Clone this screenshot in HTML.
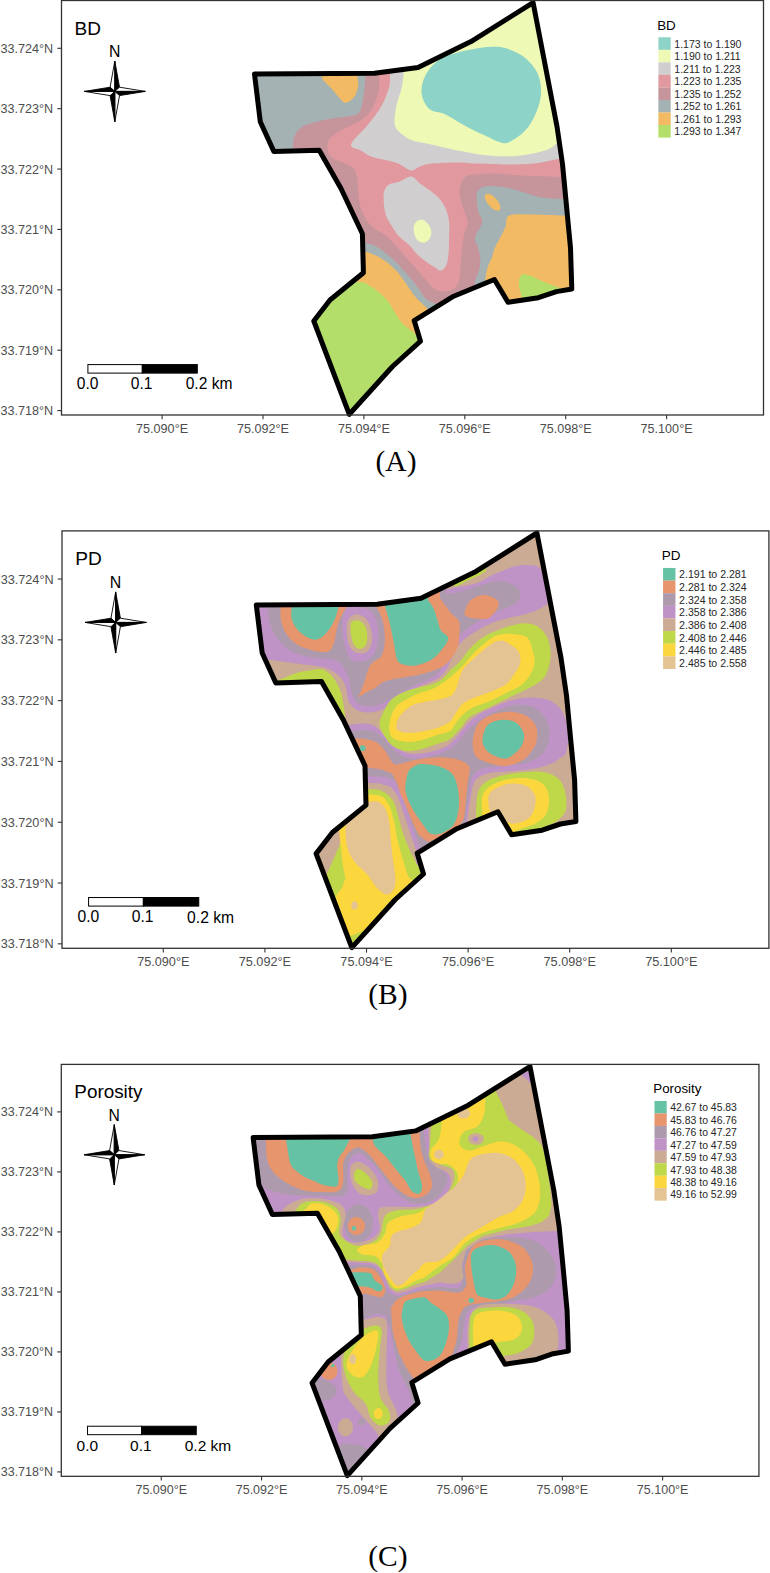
<!DOCTYPE html>
<html><head><meta charset="utf-8"><style>
html,body{margin:0;padding:0;background:#fff;width:770px;height:1573px;overflow:hidden}
svg{display:block}
text{font-family:"Liberation Sans",sans-serif}
.ax{font-size:12.6px;fill:#4D4D4D}
.tk{stroke:#333;stroke-width:1.1}
.ttl{font-size:19px;fill:#000}
.nn{font-size:15.8px;fill:#000}
.sb{font-size:15.6px;fill:#000}
.lt{font-size:13.4px;fill:#000}
.ll{font-size:10.5px;fill:#262626}
.cap{font-family:"Liberation Serif",serif;font-size:29.5px;fill:#000}
</style></head><body>
<svg width="770" height="1573" viewBox="0 0 770 1573">
<rect width="770" height="1573" fill="#fff"/>
<clipPath id="clipA"><path d="M254.5,74.0 L374.5,73.3 L418.0,67.4 L471.0,41.6 L533.1,2.6 L557.0,126.5 L562.5,164.0 L566.5,206.0 L570.5,248.0 L571.8,289.0 L556.4,291.6 L538.4,297.7 L508.0,302.3 L494.4,279.5 L452.5,296.8 L414.2,320.6 L420.5,341.2 L392.5,366.5 L349.3,414.3 L313.8,321.0 L330.0,300.0 L363.4,272.8 L362.4,233.8 L341.0,188.5 L319.2,150.2 L273.8,151.4 L260.3,121.8 Z"/></clipPath>
<g clip-path="url(#clipA)">
<path d="M254.5,74.0 L374.5,73.3 L418.0,67.4 L471.0,41.6 L533.1,2.6 L557.0,126.5 L562.5,164.0 L566.5,206.0 L570.5,248.0 L571.8,289.0 L556.4,291.6 L538.4,297.7 L508.0,302.3 L494.4,279.5 L452.5,296.8 L414.2,320.6 L420.5,341.2 L392.5,366.5 L349.3,414.3 L313.8,321.0 L330.0,300.0 L363.4,272.8 L362.4,233.8 L341.0,188.5 L319.2,150.2 L273.8,151.4 L260.3,121.8 Z" fill="#E1999F"/>
<path d="M390.0,70.0 C390.0,70.9 390.1,72.6 390.0,75.5 C389.9,78.4 390.5,82.3 389.1,87.3 C387.7,92.3 385.4,99.1 381.8,105.5 C378.2,111.9 372.4,119.0 367.3,125.5 C362.2,132.0 351.9,140.3 351.0,144.5 C350.1,148.7 358.5,148.9 361.8,150.9 C365.1,152.9 366.9,154.9 370.9,156.4 C374.8,157.9 380.9,158.8 385.5,160.0 C390.1,161.2 394.0,161.9 398.2,163.6 C402.4,165.3 407.3,169.9 410.9,170.4 C414.5,170.9 416.5,167.6 420.0,166.5 C423.5,165.4 425.7,164.3 432.0,163.6 C438.3,162.9 450.5,162.5 457.9,162.5 C465.3,162.5 467.3,163.3 476.4,163.6 C485.5,163.9 502.1,164.7 512.7,164.5 C523.3,164.3 532.4,163.6 540.0,162.7 C547.6,161.8 552.4,160.0 558.2,159.1 C564.0,158.2 572.2,157.3 575.0,157.0 L600.0,157.0 L600.0,-10.0 L390.0,-10.0 Z" fill="#D1CECF"/>
<path d="M411.2,176.6 C407.9,176.3 403.7,180.2 400.0,181.5 C396.3,182.8 391.6,183.0 389.0,184.5 C386.4,186.0 385.4,188.1 384.5,190.5 C383.6,192.9 383.4,195.1 383.6,199.0 C383.8,202.9 384.2,209.6 385.5,214.0 C386.8,218.4 389.2,221.8 391.4,225.4 C393.6,229.0 395.7,232.5 398.6,235.8 C401.5,239.1 405.9,242.0 409.0,245.1 C412.1,248.2 414.2,251.6 417.3,254.5 C420.4,257.4 424.8,260.6 427.7,262.8 C430.6,265.0 432.8,266.2 435.0,267.5 C437.2,268.8 438.9,271.1 440.7,270.8 C442.5,270.6 444.7,268.6 446.0,266.0 C447.3,263.4 447.9,259.8 448.4,255.0 C448.9,250.2 449.0,243.0 449.1,237.5 C449.2,232.0 449.6,226.7 449.1,222.0 C448.6,217.3 447.6,213.3 446.0,209.5 C444.4,205.7 442.3,202.2 439.7,199.1 C437.1,196.0 433.7,193.4 430.4,190.8 C427.1,188.2 423.2,185.9 420.0,183.5 C416.8,181.1 414.5,176.9 411.2,176.6 Z" fill="#D1CECF"/>
<path d="M403.6,65.0 C403.6,66.3 403.9,69.0 403.6,72.7 C403.3,76.4 403.0,81.8 401.8,87.3 C400.6,92.8 397.6,100.0 396.4,105.5 C395.2,111.0 394.6,116.2 394.5,120.0 C394.4,123.8 394.9,125.8 396.0,128.0 C397.1,130.2 398.5,131.5 401.0,133.5 C403.5,135.5 406.6,138.3 410.9,140.0 C415.2,141.7 419.0,141.8 426.8,143.5 C434.6,145.2 448.4,148.6 457.9,150.5 C467.4,152.4 475.2,154.0 483.9,155.0 C492.6,156.0 502.1,156.5 509.9,156.3 C517.7,156.1 524.1,155.2 530.6,154.0 C537.1,152.8 544.1,151.2 549.0,149.0 C553.9,146.8 555.7,143.3 560.0,141.0 C564.3,138.7 572.5,136.0 575.0,135.0 L600.0,135.0 L600.0,-10.0 L403.6,-10.0 Z" fill="#EFF9B6"/>
<path d="M413.6,227.3 C413.9,225.0 415.0,222.8 416.5,221.5 C418.0,220.2 420.5,219.3 422.5,219.8 C424.5,220.3 427.0,222.4 428.5,224.5 C430.0,226.6 431.3,229.8 431.4,232.3 C431.5,234.8 430.2,237.8 429.0,239.5 C427.8,241.2 425.9,242.4 424.2,242.7 C422.4,242.9 420.1,242.2 418.5,241.0 C416.9,239.8 415.6,237.8 414.8,235.5 C414.0,233.2 413.3,229.6 413.6,227.3 Z" fill="#EFF9B6"/>
<path d="M421.6,93.5 C421.0,87.9 422.5,80.9 425.5,75.3 C428.5,69.7 433.0,63.8 439.7,59.7 C446.4,55.6 456.2,52.8 465.7,50.6 C475.2,48.5 487.8,46.1 496.9,46.8 C506.0,47.4 513.8,50.6 520.3,54.5 C526.8,58.4 532.3,64.5 535.8,70.1 C539.2,75.7 540.6,82.2 541.0,88.3 C541.4,94.4 540.5,100.0 538.4,106.5 C536.2,113.0 532.4,121.7 528.1,127.3 C523.8,132.9 516.8,137.7 512.5,140.3 C508.2,142.9 506.9,143.8 502.1,142.9 C497.3,142.0 490.4,138.1 483.9,135.1 C477.4,132.1 469.6,128.2 463.1,124.7 C456.6,121.2 450.5,116.9 444.9,114.3 C439.3,111.7 433.3,112.6 429.4,109.1 C425.5,105.6 422.2,99.1 421.6,93.5 Z" fill="#8DD3C7"/>
<path d="M379.1,65.0 C379.1,66.8 379.2,70.9 379.1,75.5 C379.0,80.1 379.6,86.8 378.2,92.7 C376.8,98.6 374.2,106.1 370.9,110.9 C367.6,115.8 363.3,118.5 358.2,121.8 C353.1,125.1 344.8,128.0 340.0,130.9 C335.2,133.8 331.6,136.3 329.5,139.0 C327.4,141.7 327.2,144.3 327.5,147.3 C327.8,150.3 328.0,154.2 331.2,157.0 C334.4,159.8 342.9,162.2 346.8,164.3 C350.7,166.4 352.7,166.9 354.5,169.5 C356.3,172.1 356.9,176.2 357.5,180.0 C358.1,183.8 357.9,187.8 358.4,192.0 C358.8,196.2 359.3,201.8 360.2,205.5 C361.1,209.2 362.1,211.5 363.6,214.5 C365.1,217.5 367.0,221.1 369.1,223.6 C371.2,226.1 373.1,227.5 376.0,229.5 C378.9,231.5 383.1,233.4 386.2,235.8 C389.3,238.2 391.9,241.3 394.5,244.1 C397.1,246.9 399.4,249.6 401.8,252.4 C404.2,255.2 406.4,257.8 409.0,260.7 C411.6,263.6 414.5,267.0 417.3,270.1 C420.1,273.2 422.7,276.2 425.6,279.4 C428.6,282.6 431.8,287.3 435.0,289.3 C438.2,291.3 441.7,291.6 445.0,291.4 C448.3,291.2 452.6,289.9 455.0,287.9 C457.4,285.9 458.4,282.9 459.3,279.3 C460.2,275.7 460.1,270.8 460.5,266.4 C460.9,262.0 461.2,257.1 461.6,253.1 C462.0,249.2 462.1,246.2 462.6,242.7 C463.1,239.2 463.8,235.8 464.7,232.3 C465.6,228.9 468.0,225.8 467.8,222.0 C467.6,218.2 464.9,213.8 463.6,209.5 C462.3,205.2 460.5,200.0 460.0,196.0 C459.5,192.0 459.6,188.8 460.5,185.6 C461.4,182.3 463.1,178.3 465.7,176.5 C468.3,174.7 471.6,175.0 476.4,174.5 C481.2,174.0 486.9,173.4 494.5,173.6 C502.1,173.8 512.7,175.0 521.8,175.5 C530.9,176.0 542.1,176.1 549.1,176.4 C556.1,176.7 558.5,177.2 563.6,177.3 C568.8,177.5 577.3,177.3 580.0,177.3 L600.0,177.3 L600.0,430.0 L240.0,430.0 L240.0,65.0 Z" fill="#C6959C"/>
<path d="M365.5,65.0 C365.5,66.8 365.8,70.3 365.5,75.5 C365.2,80.7 364.5,90.5 363.6,96.4 C362.7,102.3 361.8,107.7 360.0,110.9 C358.2,114.1 356.9,114.3 352.7,115.5 C348.4,116.7 340.6,117.2 334.5,118.2 C328.4,119.2 321.8,120.3 316.4,121.8 C310.9,123.3 305.4,124.9 301.8,127.3 C298.2,129.7 296.0,132.8 294.5,136.4 C293.0,140.0 293.0,145.2 292.7,149.1 C292.4,153.0 292.7,158.2 292.7,160.0 L240.0,160.0 L240.0,65.0 Z" fill="#A4B2B3"/>
<path d="M355.0,240.0 C356.7,240.5 361.9,242.1 365.4,243.1 C368.9,244.1 372.3,244.5 375.8,246.2 C379.3,247.9 382.7,250.6 386.2,253.4 C389.7,256.2 393.5,259.7 396.6,262.8 C399.7,265.9 402.1,269.0 404.9,272.1 C407.7,275.2 410.8,278.6 413.2,281.5 C415.6,284.4 417.2,286.8 419.4,289.8 C421.6,292.8 423.8,297.0 426.4,299.3 C429.0,301.6 432.7,301.8 435.0,303.6 C437.3,305.4 439.2,308.9 440.0,310.0 L440.0,430.0 L300.0,430.0 L300.0,240.0 Z" fill="#A4B2B3"/>
<path d="M474.0,300.0 C474.2,297.0 474.1,287.2 475.0,282.1 C475.9,277.0 478.4,273.3 479.3,269.3 C480.2,265.3 480.5,261.9 480.3,258.3 C480.1,254.7 479.1,251.4 478.2,247.9 C477.3,244.4 474.4,241.8 475.1,237.5 C475.8,233.2 481.8,226.3 482.3,222.0 C482.8,217.7 479.1,215.6 478.2,211.6 C477.2,207.6 476.6,201.5 476.6,198.0 C476.6,194.5 476.7,192.4 478.2,190.5 C479.7,188.6 481.3,186.9 485.5,186.4 C489.7,185.9 497.6,186.4 503.6,187.3 C509.7,188.2 515.7,190.1 521.8,191.8 C527.9,193.5 533.0,196.1 540.0,197.3 C547.0,198.5 556.9,198.8 563.6,199.1 C570.3,199.4 577.3,199.1 580.0,199.1 L600.0,199.1 L600.0,330.0 L474.0,330.0 Z" fill="#A4B2B3"/>
<path d="M321.8,65.0 C321.8,66.9 321.4,73.7 321.8,76.4 C322.2,79.1 322.5,79.1 324.0,81.0 C325.5,82.9 328.5,85.4 330.9,88.0 C333.3,90.6 335.8,94.0 338.2,96.4 C340.6,98.9 342.8,102.7 345.5,102.7 C348.2,102.7 352.4,99.3 354.5,96.4 C356.6,93.5 357.7,88.8 358.2,85.5 C358.7,82.2 357.6,79.8 357.5,76.4 C357.4,73.0 357.5,66.9 357.5,65.0 Z" fill="#F2BA63"/>
<path d="M355.0,249.0 C356.7,249.4 361.9,250.3 365.4,251.4 C368.9,252.5 372.3,253.8 375.8,255.5 C379.3,257.2 382.7,259.2 386.2,261.8 C389.7,264.4 393.7,268.0 396.6,271.1 C399.5,274.2 401.6,277.4 403.8,280.5 C406.1,283.6 408.1,287.0 410.1,289.8 C412.1,292.6 413.8,295.0 416.0,297.5 C418.2,300.0 421.6,303.0 423.6,305.0 C425.6,307.0 426.5,307.6 427.9,309.3 C429.3,311.0 431.3,314.1 432.0,315.0 L432.0,430.0 L300.0,430.0 L300.0,249.0 Z" fill="#F2BA63"/>
<path d="M484.0,300.0 C484.2,296.3 484.9,283.5 485.5,277.9 C486.1,272.3 486.9,269.7 487.9,266.4 C488.9,263.1 490.5,261.4 491.7,258.3 C492.9,255.2 493.4,251.3 494.8,247.9 C496.2,244.5 498.2,241.6 500.0,238.0 C501.8,234.4 504.0,230.2 505.5,226.4 C507.0,222.7 504.9,217.5 509.1,215.5 C513.3,213.5 521.8,214.5 530.9,214.5 C540.0,214.5 555.4,215.3 563.6,215.5 C571.8,215.7 577.3,215.5 580.0,215.5 L600.0,215.5 L600.0,330.0 L484.0,330.0 Z" fill="#F2BA63"/>
<path d="M499.5,210.1 C498.9,210.6 497.9,210.8 496.8,210.6 C495.7,210.4 494.2,209.8 492.9,208.9 C491.6,208.0 490.1,206.6 489.0,205.3 C487.9,204.0 486.7,202.4 486.0,201.0 C485.3,199.6 484.9,198.0 484.8,196.9 C484.8,195.8 485.1,194.8 485.7,194.3 C486.3,193.8 487.3,193.6 488.4,193.8 C489.5,194.0 491.0,194.6 492.3,195.5 C493.6,196.4 495.1,197.8 496.2,199.1 C497.3,200.4 498.5,202.0 499.2,203.4 C499.9,204.8 500.3,206.4 500.4,207.5 C500.4,208.6 500.1,209.6 499.5,210.1 Z" fill="#F2BA63"/>
<path d="M345.0,278.0 C346.7,278.6 351.9,280.8 355.0,281.5 C358.1,282.2 360.9,281.8 363.3,282.5 C365.7,283.2 367.0,284.3 369.1,285.5 C371.2,286.7 373.7,288.2 375.8,289.8 C377.9,291.4 379.8,292.9 382.0,295.0 C384.2,297.1 387.0,299.9 389.1,302.7 C391.2,305.5 392.4,308.5 394.5,311.8 C396.6,315.1 398.8,319.4 401.8,322.7 C404.8,326.0 410.3,329.7 412.7,331.8 C415.1,333.9 414.3,333.6 416.4,335.5 C418.4,337.4 423.6,341.8 425.0,343.0 L425.0,430.0 L300.0,430.0 L300.0,278.0 Z" fill="#B3DE69"/>
<path d="M521.6,310.0 C521.6,307.9 522.0,301.7 521.6,297.7 C521.2,293.7 519.4,289.2 519.0,286.0 C518.6,282.8 518.8,280.4 519.5,278.5 C520.2,276.6 521.2,274.8 523.0,274.3 C524.8,273.8 527.4,274.6 530.0,275.5 C532.6,276.4 534.8,278.0 538.4,279.5 C542.0,281.0 547.7,283.3 551.4,284.7 C555.1,286.1 556.6,286.7 560.5,287.9 C564.4,289.1 572.6,291.3 575.0,292.0 L575.0,310.0 Z" fill="#B3DE69"/>
</g>
<path d="M254.5,74.0 L374.5,73.3 L418.0,67.4 L471.0,41.6 L533.1,2.6 L557.0,126.5 L562.5,164.0 L566.5,206.0 L570.5,248.0 L571.8,289.0 L556.4,291.6 L538.4,297.7 L508.0,302.3 L494.4,279.5 L452.5,296.8 L414.2,320.6 L420.5,341.2 L392.5,366.5 L349.3,414.3 L313.8,321.0 L330.0,300.0 L363.4,272.8 L362.4,233.8 L341.0,188.5 L319.2,150.2 L273.8,151.4 L260.3,121.8 Z" fill="none" stroke="#000" stroke-width="5.00" stroke-linejoin="round"/>
<g transform="matrix(1.00000 0 0 1.00000 0.000 0.000)">
<line x1="57.3" y1="48.30" x2="61.5" y2="48.30" class="tk"/>
<text x="53.2" y="52.80" class="ax" text-anchor="end">33.724°N</text>
<line x1="57.3" y1="108.68" x2="61.5" y2="108.68" class="tk"/>
<text x="53.2" y="113.18" class="ax" text-anchor="end">33.723°N</text>
<line x1="57.3" y1="169.06" x2="61.5" y2="169.06" class="tk"/>
<text x="53.2" y="173.56" class="ax" text-anchor="end">33.722°N</text>
<line x1="57.3" y1="229.44" x2="61.5" y2="229.44" class="tk"/>
<text x="53.2" y="233.94" class="ax" text-anchor="end">33.721°N</text>
<line x1="57.3" y1="289.82" x2="61.5" y2="289.82" class="tk"/>
<text x="53.2" y="294.32" class="ax" text-anchor="end">33.720°N</text>
<line x1="57.3" y1="350.20" x2="61.5" y2="350.20" class="tk"/>
<text x="53.2" y="354.70" class="ax" text-anchor="end">33.719°N</text>
<line x1="57.3" y1="410.58" x2="61.5" y2="410.58" class="tk"/>
<text x="53.2" y="415.08" class="ax" text-anchor="end">33.718°N</text>
<line x1="162.10" y1="415" x2="162.10" y2="419.3" class="tk"/>
<text x="162.10" y="433" class="ax" text-anchor="middle">75.090°E</text>
<line x1="263.00" y1="415" x2="263.00" y2="419.3" class="tk"/>
<text x="263.00" y="433" class="ax" text-anchor="middle">75.092°E</text>
<line x1="363.90" y1="415" x2="363.90" y2="419.3" class="tk"/>
<text x="363.90" y="433" class="ax" text-anchor="middle">75.094°E</text>
<line x1="464.80" y1="415" x2="464.80" y2="419.3" class="tk"/>
<text x="464.80" y="433" class="ax" text-anchor="middle">75.096°E</text>
<line x1="565.70" y1="415" x2="565.70" y2="419.3" class="tk"/>
<text x="565.70" y="433" class="ax" text-anchor="middle">75.098°E</text>
<line x1="666.60" y1="415" x2="666.60" y2="419.3" class="tk"/>
<text x="666.60" y="433" class="ax" text-anchor="middle">75.100°E</text>
<text x="74.6" y="34.8" class="ttl">BD</text>
<path d="M114.8,61.1 L110.1,87.2 L114.8,91.4 Z" fill="#fff" stroke="#000" stroke-width="0.9" stroke-linejoin="miter"/>
<path d="M114.8,61.1 L119.5,87.2 L114.8,91.4 Z" fill="#000" stroke="#000" stroke-width="0.9" stroke-linejoin="miter"/>
<path d="M145.3,91.4 L119.5,87.2 L114.8,91.4 Z" fill="#fff" stroke="#000" stroke-width="0.9" stroke-linejoin="miter"/>
<path d="M145.3,91.4 L119.5,95.6 L114.8,91.4 Z" fill="#000" stroke="#000" stroke-width="0.9" stroke-linejoin="miter"/>
<path d="M114.8,121.8 L119.5,95.6 L114.8,91.4 Z" fill="#fff" stroke="#000" stroke-width="0.9" stroke-linejoin="miter"/>
<path d="M114.8,121.8 L110.1,95.6 L114.8,91.4 Z" fill="#000" stroke="#000" stroke-width="0.9" stroke-linejoin="miter"/>
<path d="M84.4,91.4 L110.1,95.6 L114.8,91.4 Z" fill="#fff" stroke="#000" stroke-width="0.9" stroke-linejoin="miter"/>
<path d="M84.4,91.4 L110.1,87.2 L114.8,91.4 Z" fill="#000" stroke="#000" stroke-width="0.9" stroke-linejoin="miter"/>
<text x="114.6" y="57.3" class="nn" text-anchor="middle">N</text>
<rect x="87.9" y="364.6" width="54.4" height="8.5" fill="#fff" stroke="#000" stroke-width="1"/>
<rect x="142.3" y="364.6" width="55" height="8.5" fill="#000" stroke="#000" stroke-width="1"/>
<text x="87.7" y="389.2" class="sb" text-anchor="middle">0.0</text>
<text x="141.6" y="389.2" class="sb" text-anchor="middle">0.1</text>
<text x="185.7" y="389.4" class="sb">0.2 km</text>
<text x="657.2" y="29.7" class="lt">BD</text>
<rect x="658.4" y="37.30" width="12.3" height="12.6" fill="#8DD3C7"/>
<text x="674.3" y="47.70" class="ll">1.173 to 1.190</text>
<rect x="658.4" y="49.83" width="12.3" height="12.6" fill="#EFF9B6"/>
<text x="674.3" y="60.23" class="ll">1.190 to 1.211</text>
<rect x="658.4" y="62.36" width="12.3" height="12.6" fill="#D1CECF"/>
<text x="674.3" y="72.76" class="ll">1.211 to 1.223</text>
<rect x="658.4" y="74.89" width="12.3" height="12.6" fill="#E1999F"/>
<text x="674.3" y="85.29" class="ll">1.223 to 1.235</text>
<rect x="658.4" y="87.42" width="12.3" height="12.6" fill="#C6959C"/>
<text x="674.3" y="97.82" class="ll">1.235 to 1.252</text>
<rect x="658.4" y="99.95" width="12.3" height="12.6" fill="#A4B2B3"/>
<text x="674.3" y="110.35" class="ll">1.252 to 1.261</text>
<rect x="658.4" y="112.48" width="12.3" height="12.6" fill="#F2BA63"/>
<text x="674.3" y="122.88" class="ll">1.261 to 1.293</text>
<rect x="658.4" y="125.01" width="12.3" height="12.6" fill="#B3DE69"/>
<text x="674.3" y="135.41" class="ll">1.293 to 1.347</text>
<rect x="61.5" y="0.5" width="702" height="414.5" fill="none" stroke="#333" stroke-width="1.3"/>
</g>
<clipPath id="clipB"><path d="M256.3,604.9 L377.2,604.2 L421.0,598.3 L474.4,572.3 L536.9,533.0 L561.0,657.8 L566.5,695.5 L570.5,737.8 L574.6,780.1 L575.9,821.4 L560.4,824.0 L542.2,830.2 L511.6,834.8 L497.9,811.8 L455.7,829.3 L417.2,853.2 L423.5,874.0 L395.3,899.5 L351.8,947.6 L316.1,853.6 L332.4,832.5 L366.0,805.1 L365.0,765.8 L343.5,720.2 L321.5,681.6 L275.8,682.9 L262.2,653.0 Z"/></clipPath>
<g clip-path="url(#clipB)">
<path d="M256.3,604.9 L377.2,604.2 L421.0,598.3 L474.4,572.3 L536.9,533.0 L561.0,657.8 L566.5,695.5 L570.5,737.8 L574.6,780.1 L575.9,821.4 L560.4,824.0 L542.2,830.2 L511.6,834.8 L497.9,811.8 L455.7,829.3 L417.2,853.2 L423.5,874.0 L395.3,899.5 L351.8,947.6 L316.1,853.6 L332.4,832.5 L366.0,805.1 L365.0,765.8 L343.5,720.2 L321.5,681.6 L275.8,682.9 L262.2,653.0 Z" fill="#CBAB93"/>
<path d="M250.0,659.5 C252.7,659.5 259.5,659.0 266.0,659.5 C272.5,660.0 281.9,661.6 289.0,662.5 C296.1,663.4 302.3,664.2 308.4,665.1 C314.4,666.0 320.8,666.4 325.3,667.7 C329.9,669.0 332.9,671.0 335.7,672.9 C338.5,674.8 340.5,676.8 342.2,679.4 C343.9,682.0 345.1,684.9 346.1,688.5 C347.2,692.1 346.9,697.5 348.5,701.0 C350.1,704.5 352.9,707.6 355.8,709.5 C358.8,711.4 362.7,712.2 366.2,712.5 C369.7,712.8 373.5,712.2 376.6,711.5 C379.7,710.8 382.1,709.5 384.9,708.1 C387.7,706.7 390.3,704.8 393.2,702.9 C396.1,701.0 398.9,699.0 402.5,696.6 C406.1,694.2 410.8,690.8 415.0,688.5 C419.2,686.2 423.8,684.9 428.0,683.0 C432.2,681.1 436.8,679.4 440.0,677.0 C443.2,674.6 445.0,671.8 447.0,668.5 C449.0,665.2 450.1,661.3 452.0,657.5 C453.9,653.7 455.9,648.9 458.5,645.5 C461.1,642.1 463.7,639.8 467.3,637.0 C470.9,634.2 475.5,631.5 480.0,629.0 C484.5,626.5 489.1,624.0 494.5,622.0 C499.9,620.0 506.6,618.6 512.7,617.0 C518.8,615.4 525.4,614.5 530.9,612.5 C536.4,610.5 542.7,607.9 546.0,605.0 C549.3,602.1 550.2,598.2 550.5,595.0 C550.8,591.8 549.0,589.2 548.0,586.0 C547.0,582.8 546.1,579.1 544.5,575.9 C542.9,572.7 541.1,568.6 538.2,566.8 C535.3,565.0 531.5,565.0 527.3,565.0 C523.0,565.0 518.2,565.3 512.7,566.8 C507.2,568.3 500.6,571.4 494.5,574.1 C488.4,576.8 482.4,581.1 476.4,583.2 C470.3,585.3 463.1,585.8 458.2,586.8 C453.3,587.8 448.9,589.0 447.0,589.5 L447.0,560.0 L250.0,560.0 Z" fill="#C093C6"/>
<path d="M268.2,600.0 C268.2,601.1 268.0,603.2 268.2,606.7 C268.4,610.2 268.2,616.0 269.5,621.0 C270.8,626.0 272.8,631.9 276.0,636.6 C279.2,641.4 284.2,646.3 289.0,649.5 C293.8,652.7 298.9,654.5 304.5,656.0 C310.1,657.5 317.7,658.0 322.7,658.6 C327.7,659.2 331.4,659.0 334.4,659.9 C337.4,660.8 339.1,662.1 340.9,663.8 C342.7,665.5 343.6,667.3 345.0,670.0 C346.4,672.7 347.9,676.3 349.0,680.0 C350.1,683.7 350.3,688.3 351.5,692.0 C352.7,695.7 353.8,699.7 356.0,702.0 C358.2,704.3 361.7,705.4 365.0,706.0 C368.3,706.6 372.7,706.2 376.0,705.5 C379.3,704.8 381.8,703.5 385.0,702.0 C388.2,700.5 391.7,698.4 395.0,696.5 C398.3,694.6 401.2,692.6 405.0,690.5 C408.8,688.4 413.8,686.0 418.0,684.0 C422.2,682.0 426.7,680.3 430.0,678.5 C433.3,676.7 435.8,675.4 438.0,673.0 C440.2,670.6 441.5,667.2 443.0,664.0 C444.5,660.8 445.5,657.3 447.0,654.0 C448.5,650.7 450.0,647.0 452.0,644.0 C454.0,641.0 455.9,639.0 459.0,636.0 C462.1,633.0 466.8,628.9 470.9,626.0 C475.0,623.1 479.1,621.0 483.6,618.5 C488.2,616.0 493.3,613.2 498.2,611.0 C503.1,608.8 509.1,607.2 512.7,605.0 C516.3,602.8 519.1,600.4 520.0,597.7 C520.9,595.0 520.0,591.0 518.2,588.6 C516.4,586.2 513.1,584.4 509.1,583.2 C505.2,582.0 499.9,580.8 494.5,581.4 C489.1,582.0 482.4,585.0 476.4,586.8 C470.3,588.6 463.3,591.1 458.2,592.3 C453.1,593.5 448.0,593.7 446.0,594.0 L446.0,560.0 L268.2,560.0 Z" fill="#AD9BAD"/>
<path d="M345.0,724.7 C345.9,724.7 347.9,724.9 350.6,724.7 C353.3,724.5 357.5,723.6 361.0,723.6 C364.5,723.6 368.5,723.6 371.4,724.5 C374.3,725.4 376.1,726.8 378.5,729.0 C380.9,731.2 383.4,734.8 386.0,737.5 C388.6,740.2 391.0,743.1 394.0,745.5 C397.0,747.9 400.5,750.6 404.0,752.0 C407.5,753.4 410.7,754.0 415.0,754.0 C419.3,754.0 425.0,753.2 430.0,752.0 C435.0,750.8 440.8,749.2 445.0,747.0 C449.2,744.8 452.0,742.0 455.0,739.0 C458.0,736.0 460.2,732.2 463.0,729.0 C465.8,725.8 468.8,722.2 472.0,719.5 C475.2,716.8 478.3,714.6 482.0,712.5 C485.7,710.4 489.3,709.0 494.0,707.0 C498.7,705.0 504.0,702.1 510.0,700.5 C516.0,698.9 523.2,697.4 530.0,697.5 C536.8,697.6 545.3,698.2 550.9,701.0 C556.5,703.8 560.8,708.4 563.6,714.0 C566.5,719.6 567.6,728.0 568.0,734.5 C568.4,741.0 567.3,748.8 566.0,752.7 C564.7,756.6 562.2,756.3 560.0,758.0 C557.8,759.7 557.6,761.0 553.0,762.9 C548.4,764.8 539.5,767.7 532.2,769.1 C524.9,770.5 516.7,770.5 509.4,771.2 C502.1,771.9 494.2,771.8 488.6,773.2 C483.1,774.6 478.9,776.7 476.1,779.5 C473.3,782.3 473.0,786.1 472.0,789.9 C471.0,793.7 470.6,797.8 469.9,802.3 C469.2,806.8 468.3,813.6 467.8,816.9 C467.3,820.2 467.1,821.1 467.0,822.0 L467.0,870.0 L416.0,870.0 L416.0,850.0 L409.5,831.0 L403.5,813.0 L398.0,797.0 L391.0,787.0 L380.0,783.5 L369.0,783.0 L360.0,782.5 L330.0,782.5 L330.0,724.7 Z" fill="#C093C6"/>
<path d="M345.0,731.0 C346.2,731.0 349.2,731.2 352.0,731.0 C354.8,730.8 358.7,730.0 362.0,730.0 C365.3,730.0 369.0,730.2 372.0,731.0 C375.0,731.8 377.5,733.2 380.0,735.0 C382.5,736.8 384.7,739.5 387.0,742.0 C389.3,744.5 391.2,747.6 394.0,750.0 C396.8,752.4 400.5,755.1 404.0,756.5 C407.5,757.9 410.7,758.5 415.0,758.5 C419.3,758.5 425.0,757.7 430.0,756.5 C435.0,755.3 440.7,753.6 445.0,751.5 C449.3,749.4 452.8,746.9 456.0,744.0 C459.2,741.1 461.0,737.2 464.0,734.0 C467.0,730.8 470.2,727.6 474.0,724.5 C477.8,721.4 481.8,718.3 487.0,715.5 C492.2,712.7 499.5,709.3 505.0,707.5 C510.5,705.7 514.8,704.2 520.0,704.5 C525.2,704.8 531.9,706.1 536.4,709.0 C540.9,711.9 545.2,716.9 547.3,721.8 C549.4,726.7 549.7,733.1 549.1,738.2 C548.5,743.4 546.9,748.8 543.6,752.7 C540.3,756.6 534.9,759.7 529.1,761.8 C523.4,763.9 516.1,764.6 509.1,765.5 C502.1,766.4 492.8,766.2 487.3,767.3 C481.8,768.4 478.7,769.7 476.0,772.0 C473.3,774.3 472.2,777.2 471.0,781.0 C469.8,784.8 469.8,790.2 469.0,795.0 C468.2,799.8 467.1,805.5 466.5,810.0 C465.9,814.5 465.7,820.0 465.5,822.0 L465.5,870.0 L419.5,870.0 L419.5,847.0 L413.0,828.0 L407.0,810.0 L401.5,794.0 L395.0,781.0 L385.0,777.0 L369.0,776.0 L360.0,775.5 L330.0,775.5 L330.0,731.0 Z" fill="#AD9BAD"/>
<path d="M280.5,600.0 C280.5,601.1 280.4,603.2 280.5,606.7 C280.6,610.2 280.2,616.5 281.2,621.0 C282.2,625.5 283.8,630.1 286.4,634.0 C289.0,637.9 292.9,641.8 296.8,644.4 C300.7,647.0 305.4,648.2 309.7,649.5 C314.0,650.8 319.2,652.0 322.7,652.1 C326.2,652.2 328.5,651.9 330.5,650.0 C332.5,648.1 333.5,644.3 334.5,641.0 C335.5,637.7 335.7,633.5 336.5,630.0 C337.3,626.5 338.3,623.0 339.5,620.0 C340.7,617.0 342.4,614.2 343.5,612.0 C344.6,609.8 345.6,608.7 346.1,606.7 C346.6,604.7 346.4,601.1 346.5,600.0 L346.5,590.0 L280.5,590.0 Z" fill="#E7956C"/>
<path d="M291.6,600.0 C291.6,601.1 291.6,603.6 291.6,606.7 C291.6,609.8 290.7,614.7 291.6,618.4 C292.5,622.1 294.4,625.8 296.8,628.8 C299.2,631.8 302.8,634.8 305.8,636.6 C308.8,638.4 312.1,639.8 314.9,639.8 C317.7,639.8 320.1,638.6 322.7,636.6 C325.3,634.6 328.3,630.8 330.5,627.5 C332.7,624.2 334.4,620.6 335.7,617.1 C337.0,613.6 337.9,609.6 338.3,606.7 C338.7,603.9 338.3,601.1 338.3,600.0 L338.3,590.0 L291.6,590.0 Z" fill="#66C2A5"/>
<path d="M376.4,600.0 C376.4,601.1 375.5,603.8 376.4,606.8 C377.3,609.8 380.4,613.6 381.8,617.7 C383.2,621.8 384.1,626.9 384.5,631.4 C384.9,635.9 385.1,640.8 384.5,645.0 C383.9,649.2 382.9,653.9 380.9,656.8 C378.9,659.7 374.8,660.2 372.7,662.3 C370.6,664.4 369.6,666.3 368.2,669.5 C366.8,672.7 365.8,677.6 364.5,681.4 C363.2,685.1 361.5,689.4 360.5,692.0 C359.5,694.6 357.6,697.0 358.6,697.0 C359.6,697.0 363.6,693.8 366.4,692.3 C369.2,690.8 372.8,689.4 375.5,687.7 C378.2,686.0 380.0,683.7 382.7,682.3 C385.4,680.9 387.9,680.4 391.8,679.5 C395.8,678.6 400.9,678.0 406.4,677.0 C411.8,676.0 418.4,675.2 424.5,673.5 C430.6,671.8 438.1,669.2 442.7,666.5 C447.2,663.8 449.2,660.9 451.8,657.5 C454.4,654.1 456.7,650.2 458.0,646.0 C459.3,641.8 459.3,636.1 459.5,632.0 C459.7,627.9 460.4,624.4 459.1,621.4 C457.8,618.4 454.2,616.8 451.8,614.1 C449.4,611.4 447.0,607.7 445.0,605.0 C443.0,602.3 440.8,599.2 440.0,598.0 L440.0,580.0 L376.4,580.0 Z" fill="#E7956C"/>
<path d="M385.0,600.0 C385.0,601.0 384.2,602.0 385.0,606.0 C385.8,610.0 388.6,618.0 390.0,624.0 C391.4,630.0 392.4,636.0 393.6,642.0 C394.8,648.0 395.6,656.2 397.3,660.0 C399.0,663.8 401.0,663.6 404.0,664.5 C407.0,665.4 410.9,666.3 415.5,665.5 C420.1,664.7 427.3,662.3 431.8,659.5 C436.3,656.7 440.0,652.2 442.7,648.6 C445.4,645.0 448.5,640.7 448.2,637.7 C447.9,634.7 442.7,633.5 440.9,630.5 C439.1,627.5 438.5,623.1 437.3,619.5 C436.1,615.9 435.2,611.9 433.6,608.6 C432.1,605.4 428.9,601.4 428.0,600.0 L428.0,590.0 L385.0,590.0 Z" fill="#66C2A5"/>
<path d="M465.0,611.0 C465.8,608.3 467.8,602.7 470.9,600.0 C474.0,597.3 479.4,595.1 483.6,595.0 C487.9,594.9 494.0,597.5 496.4,599.5 C498.8,601.5 499.4,603.8 498.2,606.8 C497.0,609.8 492.7,615.7 489.1,617.7 C485.5,619.7 480.2,618.9 476.4,618.6 C472.5,618.3 467.9,617.3 466.0,616.0 C464.1,614.7 464.2,613.7 465.0,611.0 Z" fill="#E7956C"/>
<path d="M350.0,738.0 C351.0,738.0 353.1,738.0 355.8,738.2 C358.5,738.4 362.7,738.5 366.2,739.2 C369.7,739.9 373.5,740.4 376.6,742.3 C379.7,744.2 382.6,747.8 384.9,750.6 C387.1,753.4 388.4,756.7 390.1,759.0 C391.8,761.3 392.7,763.9 395.3,764.5 C397.9,765.1 402.3,763.2 405.6,762.5 C408.9,761.8 410.3,760.8 415.0,760.0 C419.7,759.2 427.8,757.8 433.6,757.5 C439.4,757.2 445.3,757.4 450.0,758.0 C454.7,758.6 458.8,759.4 462.0,761.0 C465.2,762.6 468.5,764.1 469.5,767.5 C470.5,770.9 468.4,775.8 467.8,781.6 C467.2,787.4 466.4,796.1 465.7,802.3 C465.0,808.5 465.0,814.8 463.6,819.0 C462.2,823.2 458.4,825.9 457.4,827.3 L457.0,860.0 L440.0,860.0 L440.0,839.0 L427.3,841.8 L418.2,834.5 L410.9,818.2 L403.6,800.0 L400.5,794.3 L397.3,783.9 L392.1,773.5 L381.8,769.4 L366.2,767.3 L350.0,767.0 Z" fill="#E7956C"/>
<path d="M365.6,748.2 C365.6,748.9 365.2,749.8 364.7,750.3 C364.2,750.8 363.3,751.2 362.6,751.2 C361.9,751.2 361.0,750.8 360.5,750.3 C360.0,749.8 359.6,748.9 359.6,748.2 C359.6,747.5 360.0,746.6 360.5,746.1 C361.0,745.6 361.9,745.2 362.6,745.2 C363.3,745.2 364.2,745.6 364.7,746.1 C365.2,746.6 365.6,747.5 365.6,748.2 Z" fill="#66C2A5"/>
<path d="M407.7,773.5 C408.9,769.6 410.3,768.9 412.7,767.3 C415.1,765.7 417.4,764.0 422.1,764.0 C426.8,764.0 435.6,765.1 440.8,767.0 C446.0,768.9 450.3,771.1 453.2,775.3 C456.1,779.4 457.5,786.0 458.4,791.9 C459.3,797.8 459.3,805.0 458.4,810.6 C457.5,816.2 456.1,821.4 453.2,825.2 C450.3,829.0 444.6,832.1 440.8,833.5 C437.0,834.9 433.3,834.8 430.4,833.5 C427.5,832.2 426.6,829.6 423.6,825.5 C420.7,821.4 415.7,814.9 412.7,809.1 C409.7,803.3 406.3,796.8 405.5,790.9 C404.7,785.0 406.5,777.4 407.7,773.5 Z" fill="#66C2A5"/>
<path d="M472.7,741.8 C473.0,736.3 474.9,728.1 478.2,723.6 C481.5,719.1 487.2,716.5 492.7,714.5 C498.1,712.5 505.1,711.5 510.9,711.8 C516.7,712.1 523.0,713.8 527.3,716.4 C531.5,719.0 534.9,723.1 536.4,727.3 C537.9,731.5 537.1,737.9 536.4,741.8 C535.7,745.6 534.6,747.2 532.2,750.4 C529.8,753.6 526.3,758.2 521.8,760.8 C517.3,763.4 510.7,765.6 505.2,766.0 C499.7,766.4 493.5,764.5 488.6,762.9 C483.8,761.3 478.8,760.1 476.1,756.6 C473.5,753.1 472.4,747.3 472.7,741.8 Z" fill="#E7956C"/>
<path d="M482.7,738.2 C483.3,734.9 484.4,728.5 487.3,725.5 C490.2,722.5 495.5,720.6 500.0,720.0 C504.5,719.4 510.6,719.7 514.5,721.8 C518.4,723.9 522.4,728.8 523.6,732.7 C524.8,736.7 523.9,741.5 521.8,745.5 C519.7,749.5 514.2,754.3 510.9,756.4 C507.6,758.5 505.4,758.8 501.8,758.2 C498.2,757.6 492.1,754.8 489.1,752.7 C486.1,750.6 484.7,747.9 483.6,745.5 C482.5,743.1 482.1,741.5 482.7,738.2 Z" fill="#66C2A5"/>
<path d="M342.3,626.8 C342.1,623.0 342.0,620.7 342.7,617.7 C343.4,614.7 344.6,610.4 346.4,608.6 C348.2,606.8 350.6,606.9 353.6,606.8 C356.6,606.6 361.3,606.6 364.5,607.7 C367.7,608.8 370.6,610.5 372.7,613.2 C374.8,615.9 376.4,620.3 377.3,624.1 C378.2,627.9 378.4,632.0 378.2,635.9 C378.0,639.8 377.5,644.2 376.4,647.7 C375.3,651.2 374.1,654.5 371.8,656.8 C369.5,659.1 365.9,660.8 362.7,661.4 C359.5,662.0 355.3,661.9 352.7,660.5 C350.1,659.1 348.8,656.5 347.3,653.2 C345.8,649.9 344.4,644.9 343.6,640.5 C342.8,636.1 342.5,630.6 342.3,626.8 Z" fill="#C093C6"/>
<path d="M346.8,631.4 C346.7,628.1 346.5,624.9 347.3,622.3 C348.1,619.7 349.7,617.1 351.8,615.9 C353.9,614.7 357.4,614.2 360.0,615.0 C362.6,615.8 365.4,617.8 367.3,620.5 C369.2,623.2 370.6,627.8 371.4,631.4 C372.1,635.0 372.5,639.0 371.8,642.3 C371.1,645.6 369.3,649.6 367.3,651.4 C365.3,653.2 362.4,653.4 360.0,653.2 C357.6,653.1 354.7,652.3 352.7,650.5 C350.7,648.7 349.2,645.5 348.2,642.3 C347.2,639.1 346.9,634.7 346.8,631.4 Z" fill="#CBAB93"/>
<path d="M350.9,633.2 C350.6,630.0 350.1,625.3 350.9,623.2 C351.7,621.1 353.8,620.8 355.5,620.5 C357.2,620.2 359.2,620.4 360.9,621.4 C362.6,622.4 364.4,624.4 365.5,626.8 C366.6,629.2 367.2,633.0 367.3,635.9 C367.4,638.8 367.3,642.0 366.4,644.1 C365.5,646.2 363.5,648.0 361.8,648.6 C360.1,649.2 357.9,648.8 356.4,647.7 C354.9,646.7 353.6,644.7 352.7,642.3 C351.8,639.9 351.2,636.4 350.9,633.2 Z" fill="#BFD849"/>
<path d="M379.5,723.0 C379.7,718.9 382.7,713.7 384.7,709.7 C386.7,705.7 388.6,702.1 391.7,699.2 C394.8,696.3 398.9,694.2 403.4,692.2 C407.9,690.2 413.7,688.9 418.6,687.5 C423.5,686.1 428.5,685.5 432.6,684.0 C436.7,682.5 440.2,680.5 443.1,678.2 C446.0,676.0 448.2,672.4 450.1,670.5 C452.0,668.6 452.4,668.6 454.3,666.8 C456.2,665.0 459.2,662.3 461.6,659.5 C464.0,656.7 466.2,653.1 468.8,650.1 C471.4,647.1 474.0,644.4 477.1,641.8 C480.2,639.2 483.7,636.6 487.5,634.5 C491.3,632.4 495.9,630.9 500.0,629.4 C504.1,627.9 507.8,626.5 512.0,625.5 C516.2,624.5 521.1,623.0 525.5,623.2 C529.9,623.4 534.6,624.4 538.2,626.8 C541.8,629.2 545.2,633.7 547.3,637.7 C549.3,641.7 550.1,646.6 550.5,651.0 C550.9,655.4 550.6,659.5 549.5,664.0 C548.4,668.5 547.0,674.2 543.6,678.2 C540.2,682.2 534.7,684.9 529.1,688.0 C523.5,691.1 516.5,693.8 510.0,697.0 C503.5,700.2 496.7,703.7 490.0,707.0 C483.3,710.3 474.7,713.7 470.0,717.0 C465.3,720.3 465.1,723.3 461.8,727.0 C458.5,730.7 453.9,736.2 450.0,739.0 C446.1,741.8 442.3,742.1 438.4,743.5 C434.5,744.9 430.7,746.3 426.8,747.5 C422.9,748.7 419.0,750.1 415.1,750.6 C411.2,751.1 407.3,751.5 403.4,750.6 C399.5,749.7 395.0,747.7 391.7,745.0 C388.4,742.3 385.5,738.0 383.5,734.3 C381.5,730.6 379.3,727.1 379.5,723.0 Z" fill="#BFD849"/>
<path d="M389.4,724.9 C389.8,722.1 390.3,717.7 391.7,714.4 C393.1,711.1 394.6,707.8 397.5,705.1 C400.4,702.4 405.4,700.1 409.2,698.0 C412.9,695.9 416.8,693.9 420.0,692.7 C423.2,691.5 425.2,691.8 428.3,690.6 C431.4,689.4 435.2,687.6 438.7,685.5 C442.2,683.4 446.2,680.5 449.1,678.2 C452.1,676.0 454.0,674.2 456.4,672.0 C458.8,669.8 461.0,667.5 463.6,664.7 C466.2,661.9 469.1,658.2 471.9,655.3 C474.7,652.3 477.2,649.8 480.3,647.0 C483.4,644.2 487.3,640.8 490.6,638.7 C493.9,636.6 496.3,635.3 500.0,634.5 C503.7,633.7 508.2,633.6 512.7,634.1 C517.2,634.6 524.0,634.9 527.3,637.7 C530.6,640.5 531.5,646.6 532.7,650.9 C533.9,655.2 535.1,659.4 534.5,663.6 C533.9,667.9 531.5,672.7 529.1,676.4 C526.7,680.1 523.2,683.6 520.0,686.0 C516.8,688.4 515.0,688.5 510.0,691.0 C505.0,693.5 495.3,698.6 490.0,701.0 C484.7,703.4 481.3,704.2 478.0,705.5 C474.7,706.8 472.7,707.2 470.0,709.0 C467.3,710.8 464.1,713.8 461.8,716.0 C459.5,718.2 458.0,720.0 456.0,722.5 C454.0,725.0 452.9,729.0 450.0,731.0 C447.1,733.0 442.3,733.2 438.4,734.5 C434.5,735.8 430.7,737.3 426.8,738.5 C422.9,739.7 419.0,741.0 415.1,741.5 C411.2,742.0 407.1,742.1 403.4,741.5 C399.7,740.9 395.2,739.8 392.9,738.0 C390.6,736.2 390.0,733.2 389.4,731.0 C388.8,728.8 389.0,727.7 389.4,724.9 Z" fill="#FBD63D"/>
<path d="M396.4,728.4 C396.4,726.8 396.3,723.0 397.5,720.3 C398.7,717.6 400.9,714.6 403.4,712.1 C405.9,709.6 408.8,706.9 412.7,705.1 C416.6,703.4 422.5,702.5 426.8,701.6 C431.1,700.7 435.0,700.2 438.4,699.5 C441.8,698.8 444.6,698.3 447.0,697.5 C449.4,696.7 451.0,695.9 452.5,694.5 C454.0,693.1 455.0,691.2 456.0,689.0 C457.0,686.8 457.6,683.8 458.5,681.0 C459.4,678.2 460.2,674.7 461.6,672.0 C463.0,669.3 464.7,667.0 466.8,664.7 C468.9,662.4 471.1,661.0 474.0,658.4 C476.9,655.8 481.3,651.7 484.4,649.1 C487.5,646.5 490.1,644.3 492.7,642.9 C495.3,641.5 497.9,641.0 500.0,640.8 C502.1,640.6 502.5,640.1 505.5,641.8 C508.5,643.5 515.8,647.3 518.2,650.9 C520.6,654.5 520.9,659.4 520.0,663.6 C519.1,667.9 515.2,672.8 512.7,676.4 C510.2,680.0 508.8,682.4 505.0,685.0 C501.2,687.6 494.3,690.2 490.0,692.0 C485.7,693.8 482.3,694.8 479.0,696.0 C475.7,697.2 472.8,698.1 470.0,699.5 C467.2,700.9 464.3,702.3 462.0,704.5 C459.7,706.7 458.0,709.7 456.0,712.5 C454.0,715.3 452.9,719.0 450.0,721.5 C447.1,724.0 442.3,726.0 438.4,727.5 C434.5,729.0 430.7,729.7 426.8,730.5 C422.9,731.3 419.0,732.2 415.1,732.5 C411.2,732.8 406.3,732.9 403.4,732.5 C400.5,732.1 398.7,730.7 397.5,730.0 C396.3,729.3 396.4,730.0 396.4,728.4 Z" fill="#E5C494"/>
<path d="M476.1,830.0 C476.1,827.1 475.8,819.0 476.1,812.7 C476.5,806.4 476.5,797.2 478.2,792.0 C479.9,786.8 482.4,784.4 486.5,781.6 C490.6,778.8 496.9,776.9 503.1,775.3 C509.3,773.7 517.0,772.7 523.9,772.2 C530.8,771.7 538.8,771.0 544.7,772.2 C550.6,773.4 555.7,775.9 559.2,779.5 C562.7,783.1 564.5,788.8 565.5,794.0 C566.5,799.2 566.9,806.1 565.5,810.6 C564.1,815.1 560.6,818.2 557.1,821.0 C553.6,823.8 547.6,825.0 544.7,827.3 C541.9,829.6 540.8,833.7 540.0,835.0 L540.0,860.0 L476.1,860.0 Z" fill="#BFD849"/>
<path d="M482.3,830.0 C482.3,827.1 482.3,818.4 482.3,812.7 C482.3,807.1 480.9,800.6 482.3,796.1 C483.7,791.6 486.4,788.5 490.6,785.7 C494.8,782.9 501.1,780.7 507.3,779.5 C513.5,778.3 522.2,777.7 528.1,778.4 C534.0,779.1 539.2,780.6 542.6,783.6 C546.0,786.6 548.1,791.2 548.8,796.1 C549.5,801.0 548.9,808.2 546.8,812.7 C544.7,817.2 540.9,820.3 536.4,823.1 C531.9,825.9 523.9,827.8 519.7,829.4 C515.5,831.0 512.8,832.4 511.4,833.0 L511.4,860.0 L482.3,860.0 Z" fill="#FBD63D"/>
<path d="M491.0,815.0 C489.1,811.4 487.6,800.6 488.6,796.1 C489.6,791.6 493.1,789.9 496.9,787.8 C500.7,785.7 506.5,784.0 511.4,783.6 C516.2,783.2 522.2,784.0 526.0,785.7 C529.8,787.4 532.8,790.9 534.3,794.0 C535.8,797.1 536.0,800.6 535.3,804.4 C534.6,808.2 533.0,813.8 530.1,816.9 C527.2,820.0 521.2,822.1 517.7,823.1 C514.2,824.1 512.4,824.0 509.4,823.1 C506.4,822.2 503.1,819.4 500.0,818.0 C496.9,816.6 492.9,818.6 491.0,815.0 Z" fill="#E5C494"/>
<path d="M270.0,684.0 C272.1,683.1 278.4,680.4 282.7,678.6 C286.9,676.8 291.1,674.5 295.5,673.2 C299.9,671.9 304.8,671.3 309.0,670.6 C313.2,669.9 317.2,668.6 320.5,669.0 C323.8,669.4 326.4,671.1 329.0,673.2 C331.6,675.3 334.0,678.4 336.0,681.7 C338.0,685.1 339.9,688.9 341.2,693.3 C342.5,697.7 343.4,704.2 344.0,708.0 C344.6,711.8 344.8,714.7 345.0,716.0 L345.0,730.0 L320.0,720.0 L260.0,690.0 Z" fill="#BFD849"/>
<path d="M448.0,578.0 C449.2,579.3 452.7,585.1 455.0,586.0 C457.3,586.9 459.5,584.6 462.0,583.5 C464.5,582.4 467.3,580.8 470.0,579.5 C472.7,578.2 475.3,577.4 478.0,576.0 C480.7,574.6 484.7,571.8 486.0,571.0 L486.0,555.0 L448.0,555.0 Z" fill="#BFD849"/>
<path d="M365.0,788.0 C365.7,788.2 366.3,788.6 369.1,789.1 C371.9,789.6 377.9,789.1 381.8,790.9 C385.7,792.7 390.0,795.8 392.7,800.0 C395.4,804.2 396.4,810.6 398.2,816.4 C400.0,822.1 401.5,828.5 403.6,834.5 C405.7,840.5 408.5,847.5 410.9,852.7 C413.3,858.0 416.8,863.8 418.0,866.0 L440.0,880.0 L400.0,960.0 L300.0,960.0 L300.0,880.0 L326.0,876.0 Z" fill="#BFD849"/>
<path d="M300.0,876.0 L326.0,876.0 L327.5,865.0 L327.3,850.0 L325.0,840.0 L300.0,840.0 Z" fill="#CBAB93"/>
<path d="M365.0,794.0 C365.7,794.1 366.2,794.1 369.0,794.5 C371.8,794.9 378.4,794.6 381.8,796.4 C385.2,798.2 387.1,801.4 389.1,805.5 C391.1,809.6 392.5,814.9 394.0,821.0 C395.5,827.1 396.3,835.0 398.0,842.0 C399.7,849.0 402.3,857.3 404.0,863.0 C405.7,868.7 406.7,873.2 408.0,876.0 C409.3,878.8 411.3,879.3 412.0,880.0 L420.0,890.0 L380.0,930.0 L365.0,930.0 L350.9,936.0 L343.0,930.0 L338.0,915.0 L334.0,900.0 L336.4,895.0 L342.0,888.0 L345.5,878.0 L343.0,867.0 L341.8,856.4 L340.0,840.0 L339.0,829.0 L345.0,815.0 Z" fill="#FBD63D"/>
<path d="M346.0,818.0 C345.9,819.9 345.3,824.2 345.5,829.1 C345.7,834.0 345.8,841.8 347.3,847.3 C348.8,852.8 351.2,857.3 354.5,861.8 C357.8,866.3 363.7,870.2 367.3,874.5 C370.9,878.8 373.4,884.0 376.4,887.3 C379.4,890.6 382.8,893.9 385.5,894.5 C388.2,895.1 391.0,893.3 392.7,890.9 C394.4,888.5 395.5,885.5 395.5,880.0 C395.5,874.5 393.5,864.9 392.7,858.2 C391.9,851.5 391.5,846.1 390.9,840.0 C390.3,833.9 390.0,826.9 389.1,821.8 C388.2,816.6 387.3,812.4 385.5,809.1 C383.7,805.8 380.9,803.0 378.2,801.8 C375.4,800.6 370.5,801.8 369.0,801.8 L360.0,805.0 Z" fill="#E5C494"/>
<path d="M357.8,905.5 C357.8,906.5 357.4,907.8 356.8,908.5 C356.3,909.2 355.3,909.7 354.5,909.7 C353.7,909.7 352.7,909.2 352.2,908.5 C351.6,907.8 351.2,906.5 351.2,905.5 C351.2,904.5 351.6,903.2 352.2,902.5 C352.7,901.8 353.7,901.3 354.5,901.3 C355.3,901.3 356.3,901.8 356.8,902.5 C357.4,903.2 357.8,904.5 357.8,905.5 Z" fill="#E5C494"/>
</g>
<path d="M256.3,604.9 L377.2,604.2 L421.0,598.3 L474.4,572.3 L536.9,533.0 L561.0,657.8 L566.5,695.5 L570.5,737.8 L574.6,780.1 L575.9,821.4 L560.4,824.0 L542.2,830.2 L511.6,834.8 L497.9,811.8 L455.7,829.3 L417.2,853.2 L423.5,874.0 L395.3,899.5 L351.8,947.6 L316.1,853.6 L332.4,832.5 L366.0,805.1 L365.0,765.8 L343.5,720.2 L321.5,681.6 L275.8,682.9 L262.2,653.0 Z" fill="none" stroke="#000" stroke-width="5.03" stroke-linejoin="round"/>
<g transform="matrix(1.00698 0 0 1.00698 0.071 530.397)">
<line x1="57.3" y1="48.30" x2="61.5" y2="48.30" class="tk"/>
<text x="53.2" y="52.80" class="ax" text-anchor="end">33.724°N</text>
<line x1="57.3" y1="108.68" x2="61.5" y2="108.68" class="tk"/>
<text x="53.2" y="113.18" class="ax" text-anchor="end">33.723°N</text>
<line x1="57.3" y1="169.06" x2="61.5" y2="169.06" class="tk"/>
<text x="53.2" y="173.56" class="ax" text-anchor="end">33.722°N</text>
<line x1="57.3" y1="229.44" x2="61.5" y2="229.44" class="tk"/>
<text x="53.2" y="233.94" class="ax" text-anchor="end">33.721°N</text>
<line x1="57.3" y1="289.82" x2="61.5" y2="289.82" class="tk"/>
<text x="53.2" y="294.32" class="ax" text-anchor="end">33.720°N</text>
<line x1="57.3" y1="350.20" x2="61.5" y2="350.20" class="tk"/>
<text x="53.2" y="354.70" class="ax" text-anchor="end">33.719°N</text>
<line x1="57.3" y1="410.58" x2="61.5" y2="410.58" class="tk"/>
<text x="53.2" y="415.08" class="ax" text-anchor="end">33.718°N</text>
<line x1="162.10" y1="415" x2="162.10" y2="419.3" class="tk"/>
<text x="162.10" y="433" class="ax" text-anchor="middle">75.090°E</text>
<line x1="263.00" y1="415" x2="263.00" y2="419.3" class="tk"/>
<text x="263.00" y="433" class="ax" text-anchor="middle">75.092°E</text>
<line x1="363.90" y1="415" x2="363.90" y2="419.3" class="tk"/>
<text x="363.90" y="433" class="ax" text-anchor="middle">75.094°E</text>
<line x1="464.80" y1="415" x2="464.80" y2="419.3" class="tk"/>
<text x="464.80" y="433" class="ax" text-anchor="middle">75.096°E</text>
<line x1="565.70" y1="415" x2="565.70" y2="419.3" class="tk"/>
<text x="565.70" y="433" class="ax" text-anchor="middle">75.098°E</text>
<line x1="666.60" y1="415" x2="666.60" y2="419.3" class="tk"/>
<text x="666.60" y="433" class="ax" text-anchor="middle">75.100°E</text>
<text x="74.6" y="34.8" class="ttl">PD</text>
<path d="M114.8,61.1 L110.1,87.2 L114.8,91.4 Z" fill="#fff" stroke="#000" stroke-width="0.9" stroke-linejoin="miter"/>
<path d="M114.8,61.1 L119.5,87.2 L114.8,91.4 Z" fill="#000" stroke="#000" stroke-width="0.9" stroke-linejoin="miter"/>
<path d="M145.3,91.4 L119.5,87.2 L114.8,91.4 Z" fill="#fff" stroke="#000" stroke-width="0.9" stroke-linejoin="miter"/>
<path d="M145.3,91.4 L119.5,95.6 L114.8,91.4 Z" fill="#000" stroke="#000" stroke-width="0.9" stroke-linejoin="miter"/>
<path d="M114.8,121.8 L119.5,95.6 L114.8,91.4 Z" fill="#fff" stroke="#000" stroke-width="0.9" stroke-linejoin="miter"/>
<path d="M114.8,121.8 L110.1,95.6 L114.8,91.4 Z" fill="#000" stroke="#000" stroke-width="0.9" stroke-linejoin="miter"/>
<path d="M84.4,91.4 L110.1,95.6 L114.8,91.4 Z" fill="#fff" stroke="#000" stroke-width="0.9" stroke-linejoin="miter"/>
<path d="M84.4,91.4 L110.1,87.2 L114.8,91.4 Z" fill="#000" stroke="#000" stroke-width="0.9" stroke-linejoin="miter"/>
<text x="114.6" y="57.3" class="nn" text-anchor="middle">N</text>
<rect x="87.9" y="364.6" width="54.4" height="8.5" fill="#fff" stroke="#000" stroke-width="1"/>
<rect x="142.3" y="364.6" width="55" height="8.5" fill="#000" stroke="#000" stroke-width="1"/>
<text x="87.7" y="389.2" class="sb" text-anchor="middle">0.0</text>
<text x="141.6" y="389.2" class="sb" text-anchor="middle">0.1</text>
<text x="185.7" y="389.4" class="sb">0.2 km</text>
<text x="657.2" y="29.7" class="lt">PD</text>
<rect x="658.4" y="37.30" width="12.3" height="12.6" fill="#66C2A5"/>
<text x="674.3" y="47.70" class="ll">2.191 to 2.281</text>
<rect x="658.4" y="49.83" width="12.3" height="12.6" fill="#E7956C"/>
<text x="674.3" y="60.23" class="ll">2.281 to 2.324</text>
<rect x="658.4" y="62.36" width="12.3" height="12.6" fill="#AD9BAD"/>
<text x="674.3" y="72.76" class="ll">2.324 to 2.358</text>
<rect x="658.4" y="74.89" width="12.3" height="12.6" fill="#C093C6"/>
<text x="674.3" y="85.29" class="ll">2.358 to 2.386</text>
<rect x="658.4" y="87.42" width="12.3" height="12.6" fill="#CBAB93"/>
<text x="674.3" y="97.82" class="ll">2.386 to 2.408</text>
<rect x="658.4" y="99.95" width="12.3" height="12.6" fill="#BFD849"/>
<text x="674.3" y="110.35" class="ll">2.408 to 2.446</text>
<rect x="658.4" y="112.48" width="12.3" height="12.6" fill="#FBD63D"/>
<text x="674.3" y="122.88" class="ll">2.446 to 2.485</text>
<rect x="658.4" y="125.01" width="12.3" height="12.6" fill="#E5C494"/>
<text x="674.3" y="135.41" class="ll">2.485 to 2.558</text>
<rect x="61.5" y="0.5" width="702" height="414.5" fill="none" stroke="#333" stroke-width="1.3"/>
</g>
<clipPath id="clipC"><path d="M253.1,1137.4 L372.4,1136.7 L415.6,1130.9 L468.3,1105.2 L530.0,1066.5 L553.7,1189.6 L559.2,1226.9 L563.2,1268.6 L567.1,1310.4 L568.4,1351.1 L553.1,1353.7 L535.2,1359.8 L505.0,1364.3 L491.5,1341.7 L449.9,1358.9 L411.8,1382.5 L418.1,1403.0 L390.2,1428.1 L347.3,1475.6 L312.0,1382.9 L328.1,1362.0 L361.3,1335.0 L360.3,1296.2 L339.1,1251.2 L317.4,1213.2 L272.3,1214.4 L258.9,1184.9 Z"/></clipPath>
<g clip-path="url(#clipC)">
<path d="M253.1,1137.4 L372.4,1136.7 L415.6,1130.9 L468.3,1105.2 L530.0,1066.5 L553.7,1189.6 L559.2,1226.9 L563.2,1268.6 L567.1,1310.4 L568.4,1351.1 L553.1,1353.7 L535.2,1359.8 L505.0,1364.3 L491.5,1341.7 L449.9,1358.9 L411.8,1382.5 L418.1,1403.0 L390.2,1428.1 L347.3,1475.6 L312.0,1382.9 L328.1,1362.0 L361.3,1335.0 L360.3,1296.2 L339.1,1251.2 L317.4,1213.2 L272.3,1214.4 L258.9,1184.9 Z" fill="#C093C6"/>
<path d="M255.0,1139.0 C255.2,1142.5 255.5,1153.5 256.0,1160.0 C256.5,1166.5 256.5,1173.3 258.0,1178.0 C259.5,1182.7 261.1,1185.4 265.0,1188.0 C268.9,1190.6 275.6,1192.2 281.4,1193.5 C287.2,1194.8 293.6,1195.1 300.0,1195.5 C306.4,1195.9 314.0,1195.8 320.0,1196.0 C326.0,1196.2 332.0,1196.7 336.0,1196.5 C340.0,1196.3 342.0,1196.4 344.0,1195.0 C346.0,1193.6 347.4,1191.3 348.0,1188.0 C348.6,1184.7 347.3,1179.3 347.5,1175.0 C347.7,1170.7 347.9,1165.3 349.0,1162.0 C350.1,1158.7 352.2,1156.5 354.0,1155.0 C355.8,1153.5 358.0,1152.7 360.0,1153.0 C362.0,1153.3 363.5,1154.8 366.0,1157.0 C368.5,1159.2 371.7,1162.0 375.0,1166.0 C378.3,1170.0 382.2,1176.3 386.0,1181.0 C389.8,1185.7 393.7,1190.3 398.0,1194.0 C402.3,1197.7 407.3,1201.5 412.0,1203.0 C416.7,1204.5 422.0,1203.8 426.0,1203.0 C430.0,1202.2 433.0,1200.8 436.0,1198.5 C439.0,1196.2 442.1,1192.9 444.0,1189.5 C445.9,1186.1 447.7,1181.1 447.5,1178.0 C447.3,1174.9 445.4,1173.2 443.0,1171.0 C440.6,1168.8 435.6,1168.2 433.0,1165.0 C430.4,1161.8 428.8,1156.2 427.5,1152.0 C426.2,1147.8 425.6,1143.5 425.0,1140.0 C424.4,1136.5 424.2,1132.5 424.0,1131.0 L424.0,1100.0 L255.0,1100.0 Z" fill="#AD9BAD"/>
<path d="M373.0,1223.0 C373.0,1226.2 372.3,1229.8 371.1,1232.5 C369.8,1235.2 367.8,1237.9 365.8,1239.5 C363.7,1241.0 360.9,1242.0 358.5,1242.0 C356.1,1242.0 353.3,1241.0 351.2,1239.5 C349.2,1237.9 347.2,1235.2 345.9,1232.5 C344.7,1229.8 344.0,1226.2 344.0,1223.0 C344.0,1219.8 344.7,1216.2 345.9,1213.5 C347.2,1210.8 349.2,1208.1 351.2,1206.5 C353.3,1205.0 356.1,1204.0 358.5,1204.0 C360.9,1204.0 363.7,1205.0 365.8,1206.5 C367.8,1208.1 369.8,1210.8 371.1,1213.5 C372.3,1216.2 373.0,1219.8 373.0,1223.0 Z" fill="#AD9BAD"/>
<path d="M350.2,1265.4 C352.5,1265.3 360.3,1264.6 364.2,1264.8 C368.1,1265.0 370.9,1265.1 373.6,1266.6 C376.3,1268.1 378.9,1270.7 380.6,1273.6 C382.4,1276.5 382.7,1281.0 384.1,1284.1 C385.5,1287.2 386.7,1290.3 388.8,1292.3 C390.9,1294.2 393.8,1295.6 396.9,1295.8 C400.0,1296.0 402.8,1294.6 407.5,1293.4 C412.2,1292.2 419.6,1289.9 425.0,1288.8 C430.4,1287.7 435.0,1287.1 440.0,1287.0 C445.0,1286.9 451.4,1288.3 455.0,1288.0 C458.6,1287.7 460.4,1287.3 461.5,1285.0 C462.6,1282.7 461.5,1278.7 461.9,1274.1 C462.2,1269.5 462.8,1261.4 463.6,1257.2 C464.5,1253.0 463.9,1251.8 467.0,1248.8 C470.1,1245.8 475.4,1241.5 482.2,1239.5 C488.9,1237.5 499.1,1236.9 507.5,1237.0 C516.0,1237.1 525.9,1237.5 532.9,1240.3 C539.9,1243.1 545.8,1248.7 549.7,1253.8 C553.6,1258.9 556.2,1265.3 556.5,1270.7 C556.8,1276.1 554.5,1281.7 551.4,1285.9 C548.3,1290.1 543.8,1293.5 537.9,1296.0 C532.0,1298.5 522.3,1299.8 516.0,1301.1 C509.7,1302.4 504.7,1303.2 500.0,1304.0 C495.3,1304.8 492.2,1305.4 488.0,1306.0 C483.8,1306.6 478.5,1306.3 475.0,1307.5 C471.5,1308.7 468.8,1310.1 467.0,1313.0 C465.2,1315.9 464.8,1320.5 464.0,1325.0 C463.2,1329.5 463.3,1335.2 462.0,1340.0 C460.7,1344.8 458.0,1350.5 456.0,1354.0 C454.0,1357.5 451.0,1359.8 450.0,1361.0 L460.0,1420.0 L415.0,1420.0 L411.0,1398.0 L409.0,1390.0 L403.6,1381.0 L398.2,1368.2 L394.5,1351.8 L390.9,1331.8 L385.5,1315.5 L376.4,1313.6 L363.6,1319.1 L355.0,1322.0 L340.0,1322.0 L340.0,1265.0 Z" fill="#AD9BAD"/>
<path d="M330.0,1447.0 C330.8,1447.0 331.9,1447.9 334.5,1447.3 C337.1,1446.7 341.2,1443.9 345.5,1443.6 C349.8,1443.3 356.4,1444.6 360.0,1445.5 C363.6,1446.4 365.3,1448.0 367.3,1449.1 C369.3,1450.2 371.2,1451.5 372.0,1452.0 L372.0,1490.0 L330.0,1490.0 Z" fill="#AD9BAD"/>
<path d="M310.0,1377.0 C311.0,1377.3 313.3,1378.5 316.0,1379.0 C318.7,1379.5 323.0,1379.0 326.0,1380.0 C329.0,1381.0 332.3,1383.3 334.0,1385.0 C335.7,1386.7 336.6,1387.9 336.4,1390.0 C336.2,1392.1 334.9,1395.8 333.0,1397.5 C331.1,1399.2 327.5,1400.0 325.0,1400.5 C322.5,1401.0 320.5,1400.8 318.0,1400.5 C315.5,1400.2 311.3,1399.2 310.0,1399.0 Z" fill="#AD9BAD"/>
<path d="M365.3,1421.8 C365.3,1422.6 364.9,1423.7 364.3,1424.3 C363.7,1424.9 362.6,1425.3 361.8,1425.3 C361.0,1425.3 359.9,1424.9 359.3,1424.3 C358.7,1423.7 358.3,1422.6 358.3,1421.8 C358.3,1421.0 358.7,1419.9 359.3,1419.3 C359.9,1418.7 361.0,1418.3 361.8,1418.3 C362.6,1418.3 363.7,1418.7 364.3,1419.3 C364.9,1419.9 365.3,1421.0 365.3,1421.8 Z" fill="#AD9BAD"/>
<path d="M265.8,1140.5 C266.2,1144.4 265.8,1157.4 268.4,1163.9 C271.0,1170.4 275.8,1175.2 281.4,1179.5 C287.0,1183.8 295.2,1187.8 302.1,1189.9 C309.0,1192.0 316.8,1191.8 322.9,1192.0 C329.0,1192.2 335.1,1192.7 338.5,1191.0 C341.9,1189.3 342.4,1186.5 343.2,1182.0 C344.0,1177.5 342.5,1168.7 343.2,1164.0 C343.9,1159.3 345.7,1156.6 347.5,1154.0 C349.3,1151.4 352.0,1149.5 354.0,1148.5 C356.0,1147.5 357.5,1147.4 359.3,1147.8 C361.1,1148.2 363.1,1149.5 365.0,1151.0 C366.9,1152.5 368.1,1153.5 371.0,1157.0 C373.9,1160.5 378.6,1166.7 382.7,1171.7 C386.8,1176.8 390.9,1183.0 395.6,1187.3 C400.4,1191.6 406.4,1196.0 411.2,1197.5 C416.0,1199.0 420.7,1197.9 424.2,1196.0 C427.7,1194.1 431.4,1190.0 432.2,1186.0 C433.0,1182.0 430.4,1176.3 429.0,1172.0 C427.6,1167.7 425.4,1164.0 424.0,1160.0 C422.6,1156.0 421.6,1152.6 420.8,1148.0 C420.1,1143.4 419.7,1135.1 419.5,1132.5 L419.5,1100.0 L265.8,1100.0 Z" fill="#E7956C"/>
<path d="M365.0,1226.0 C365.0,1227.8 364.3,1229.9 363.4,1231.3 C362.4,1232.7 360.7,1234.0 359.1,1234.6 C357.5,1235.1 355.3,1235.1 353.7,1234.6 C352.1,1234.0 350.4,1232.7 349.4,1231.3 C348.5,1229.9 347.8,1227.8 347.8,1226.0 C347.8,1224.2 348.5,1222.1 349.4,1220.7 C350.4,1219.3 352.1,1218.0 353.7,1217.4 C355.3,1216.9 357.5,1216.9 359.1,1217.4 C360.7,1218.0 362.4,1219.3 363.4,1220.7 C364.3,1222.1 365.0,1224.2 365.0,1226.0 Z" fill="#E7956C"/>
<path d="M351.4,1270.1 C352.6,1269.7 355.3,1268.0 358.4,1267.7 C361.5,1267.4 367.0,1267.5 370.1,1268.3 C373.2,1269.1 375.0,1270.2 377.1,1272.4 C379.2,1274.7 381.5,1278.7 382.9,1281.8 C384.3,1284.9 385.5,1288.6 385.3,1291.1 C385.1,1293.6 383.8,1296.2 381.8,1297.0 C379.9,1297.8 376.5,1296.4 373.6,1295.8 C370.7,1295.2 366.4,1293.4 364.2,1293.4 C362.0,1293.4 362.1,1294.7 360.7,1295.8 C359.3,1296.9 356.8,1299.3 356.0,1300.0 L340.0,1300.0 L340.0,1270.0 Z" fill="#E7956C"/>
<path d="M390.9,1308.2 C391.8,1306.9 393.6,1302.6 396.0,1300.5 C398.4,1298.4 401.6,1297.2 405.1,1295.8 C408.6,1294.4 413.5,1293.1 416.8,1292.3 C420.1,1291.5 421.1,1291.4 425.0,1291.1 C428.9,1290.8 435.0,1290.3 440.0,1290.5 C445.0,1290.7 451.2,1292.4 455.0,1292.5 C458.8,1292.6 460.6,1292.4 462.5,1291.0 C464.4,1289.6 466.0,1286.8 466.5,1284.0 C467.0,1281.2 465.4,1277.6 465.3,1274.1 C465.2,1270.6 464.4,1267.8 465.8,1263.0 C467.2,1258.2 469.7,1249.3 473.8,1245.4 C477.9,1241.5 485.0,1240.3 490.6,1239.5 C496.2,1238.7 501.9,1238.8 507.5,1240.3 C513.1,1241.8 520.2,1244.6 524.4,1248.8 C528.6,1253.0 532.0,1260.1 532.9,1265.7 C533.8,1271.3 532.3,1277.5 529.5,1282.5 C526.7,1287.5 521.1,1292.9 516.0,1296.0 C510.9,1299.1 505.3,1299.8 499.1,1301.1 C492.9,1302.3 484.3,1302.6 478.8,1303.5 C473.3,1304.4 469.1,1304.6 466.0,1306.5 C462.9,1308.4 461.3,1312.3 460.0,1315.0 C458.7,1317.7 458.8,1318.4 458.2,1322.7 C457.6,1327.0 457.6,1335.2 456.4,1340.9 C455.2,1346.6 451.9,1354.3 451.0,1357.0 L452.0,1372.0 L420.0,1385.0 L412.7,1377.3 L405.5,1366.4 L398.2,1351.8 L392.7,1331.8 Z" fill="#E7956C"/>
<path d="M337.5,1371.0 C337.5,1372.8 336.9,1374.9 335.9,1376.3 C334.9,1377.7 333.2,1379.0 331.6,1379.6 C330.0,1380.1 328.0,1380.1 326.4,1379.6 C324.8,1379.0 323.1,1377.7 322.1,1376.3 C321.1,1374.9 320.5,1372.8 320.5,1371.0 C320.5,1369.2 321.1,1367.1 322.1,1365.7 C323.1,1364.3 324.8,1363.0 326.4,1362.4 C328.0,1361.9 330.0,1361.9 331.6,1362.4 C333.2,1363.0 334.9,1364.3 335.9,1365.7 C336.9,1367.1 337.5,1369.2 337.5,1371.0 Z" fill="#E7956C"/>
<path d="M285.3,1135.0 C285.5,1136.3 285.7,1138.3 286.6,1143.1 C287.5,1147.9 288.6,1159.1 290.5,1163.9 C292.4,1168.7 295.3,1169.8 297.7,1172.0 C300.1,1174.2 302.0,1175.4 304.7,1176.9 C307.4,1178.4 311.1,1179.7 314.1,1181.0 C317.1,1182.3 319.3,1183.8 322.9,1184.7 C326.5,1185.6 333.3,1187.4 335.9,1186.5 C338.5,1185.6 338.3,1183.1 338.5,1179.5 C338.7,1175.9 337.0,1168.8 337.2,1165.0 C337.4,1161.2 338.4,1158.8 339.5,1156.4 C340.6,1154.1 342.2,1153.3 343.7,1150.9 C345.2,1148.5 347.3,1144.3 348.6,1141.8 C349.9,1139.3 351.0,1137.0 351.5,1136.0 L351.5,1100.0 L285.3,1100.0 Z" fill="#66C2A5"/>
<path d="M372.3,1136.0 C372.7,1137.6 372.7,1142.4 374.9,1145.7 C377.1,1149.0 381.9,1152.2 385.3,1156.1 C388.8,1160.0 392.3,1165.0 395.6,1169.1 C398.9,1173.2 402.5,1176.9 405.2,1180.5 C407.9,1184.1 409.3,1188.7 411.7,1190.9 C414.1,1193.1 417.8,1194.4 419.5,1193.5 C421.2,1192.6 422.3,1189.4 422.1,1185.7 C421.9,1182.0 419.6,1177.0 418.2,1171.4 C416.8,1165.8 415.3,1158.1 414.0,1151.9 C412.7,1145.7 411.1,1137.0 410.5,1134.0 L410.5,1100.0 L372.3,1100.0 Z" fill="#66C2A5"/>
<path d="M356.3,1228.3 C356.3,1229.0 355.7,1230.0 355.1,1230.3 C354.6,1230.6 353.4,1230.6 352.9,1230.3 C352.3,1230.0 351.7,1229.0 351.7,1228.3 C351.7,1227.6 352.3,1226.6 352.9,1226.3 C353.4,1226.0 354.6,1226.0 355.1,1226.3 C355.7,1226.6 356.3,1227.6 356.3,1228.3 Z" fill="#66C2A5"/>
<path d="M353.7,1272.4 C355.4,1272.4 361.3,1272.2 364.2,1272.4 C367.1,1272.6 369.4,1272.2 371.2,1273.6 C372.9,1275.0 372.9,1278.6 374.7,1280.6 C376.5,1282.5 380.6,1283.8 381.8,1285.3 C383.0,1286.8 382.6,1288.9 381.8,1289.9 C381.0,1290.9 379.1,1291.5 377.1,1291.1 C375.2,1290.7 372.6,1288.4 370.1,1287.6 C367.6,1286.8 364.0,1286.6 361.9,1286.4 C359.8,1286.2 359.2,1286.6 357.2,1286.4 C355.2,1286.2 351.2,1285.2 350.0,1285.0 L340.0,1285.0 L340.0,1272.0 Z" fill="#66C2A5"/>
<path d="M403.6,1304.5 C404.6,1301.4 405.3,1301.6 407.5,1300.5 C409.7,1299.4 413.9,1298.6 416.8,1298.1 C419.7,1297.6 422.6,1296.7 425.0,1297.5 C427.4,1298.3 427.5,1300.0 430.9,1302.7 C434.3,1305.4 442.5,1309.6 445.5,1313.6 C448.5,1317.5 449.1,1321.2 449.1,1326.4 C449.1,1331.6 447.3,1339.3 445.5,1344.5 C443.7,1349.7 441.5,1354.6 438.2,1357.3 C434.9,1360.0 429.1,1361.8 425.5,1360.9 C421.9,1360.0 419.4,1355.7 416.4,1351.8 C413.4,1347.9 409.7,1342.8 407.3,1337.3 C404.9,1331.8 402.4,1324.6 401.8,1319.1 C401.2,1313.6 402.7,1307.6 403.6,1304.5 Z" fill="#66C2A5"/>
<path d="M472.1,1252.1 C473.9,1248.8 478.3,1247.3 482.2,1246.2 C486.1,1245.1 491.2,1244.4 495.7,1245.4 C500.2,1246.4 505.8,1248.7 509.2,1252.1 C512.6,1255.5 515.1,1260.6 516.0,1265.7 C516.9,1270.8 515.7,1277.7 514.3,1282.5 C512.9,1287.3 510.3,1291.6 507.5,1294.4 C504.7,1297.2 501.0,1298.9 497.4,1299.4 C493.8,1300.0 489.0,1298.5 485.6,1297.7 C482.2,1296.9 479.1,1296.9 477.1,1294.4 C475.1,1291.9 474.8,1287.3 473.8,1282.5 C472.8,1277.7 471.5,1270.8 471.2,1265.7 C470.9,1260.6 470.3,1255.3 472.1,1252.1 Z" fill="#66C2A5"/>
<path d="M474.0,1300.5 C474.0,1301.2 473.6,1302.0 473.2,1302.5 C472.7,1302.9 471.9,1303.3 471.2,1303.3 C470.5,1303.3 469.7,1302.9 469.2,1302.5 C468.8,1302.0 468.4,1301.2 468.4,1300.5 C468.4,1299.8 468.8,1299.0 469.2,1298.5 C469.7,1298.1 470.5,1297.7 471.2,1297.7 C471.9,1297.7 472.7,1298.1 473.2,1298.5 C473.6,1299.0 474.0,1299.8 474.0,1300.5 Z" fill="#66C2A5"/>
<path d="M334.5,1365.5 C334.5,1366.0 334.0,1366.8 333.6,1367.1 C333.1,1367.3 332.2,1367.3 331.8,1367.1 C331.4,1366.8 330.9,1366.0 330.9,1365.5 C330.9,1365.0 331.4,1364.2 331.8,1363.9 C332.2,1363.7 333.1,1363.7 333.6,1363.9 C334.0,1364.2 334.5,1365.0 334.5,1365.5 Z" fill="#66C2A5"/>
<path d="M427.5,1120.0 C427.7,1122.0 428.2,1127.8 428.5,1132.0 C428.8,1136.2 428.9,1140.7 429.0,1145.0 C429.1,1149.3 427.8,1154.3 429.0,1158.0 C430.2,1161.7 433.0,1164.6 436.0,1167.0 C439.0,1169.4 444.5,1170.3 447.0,1172.5 C449.5,1174.7 450.8,1176.9 451.0,1180.0 C451.2,1183.1 449.7,1187.7 448.0,1191.0 C446.3,1194.3 444.0,1197.7 441.0,1200.0 C438.0,1202.3 434.3,1203.8 430.0,1205.0 C425.7,1206.2 420.0,1206.7 415.0,1207.0 C410.0,1207.3 404.3,1206.8 400.0,1206.8 C395.7,1206.8 392.5,1206.5 389.1,1206.8 C385.7,1207.1 381.5,1206.8 379.7,1208.4 C377.9,1210.0 378.2,1212.8 378.2,1216.2 C378.2,1219.6 380.2,1225.2 379.7,1228.6 C379.2,1232.0 377.4,1234.3 375.1,1236.4 C372.8,1238.5 369.1,1240.0 365.7,1241.1 C362.3,1242.1 358.2,1243.0 354.8,1242.7 C351.4,1242.4 347.6,1241.3 345.5,1239.5 C343.4,1237.7 342.6,1234.4 342.3,1231.8 C342.0,1229.2 343.4,1227.1 343.9,1224.0 C344.4,1220.9 345.8,1216.0 345.5,1213.0 C345.2,1210.0 344.1,1207.9 342.3,1206.0 C340.5,1204.1 337.6,1202.7 334.5,1201.5 C331.4,1200.3 327.5,1199.6 323.6,1199.0 C319.7,1198.4 315.1,1197.9 311.2,1198.0 C307.3,1198.1 303.9,1198.5 300.3,1199.5 C296.7,1200.5 292.3,1202.3 289.4,1204.0 C286.5,1205.7 284.8,1207.9 283.1,1209.9 C281.4,1211.9 279.7,1215.0 279.0,1216.0 L279.0,1240.0 L334.0,1248.0 L340.0,1261.0 L347.9,1261.9 L358.4,1262.5 L370.1,1263.0 L377.1,1265.4 L382.9,1272.4 L386.4,1281.8 L389.9,1288.8 L396.9,1293.4 L407.5,1291.1 L416.8,1287.6 L425.0,1285.3 L440.0,1282.5 L452.0,1284.0 L459.5,1283.0 L463.5,1277.5 L461.8,1265.7 L466.0,1250.0 L482.2,1239.0 L507.5,1234.0 L532.9,1232.0 L554.8,1231.0 L600.0,1231.0 L600.0,1086.0 L533.0,1086.0 L525.7,1078.6 L520.0,1074.3 L515.0,1060.0 L427.5,1060.0 Z" fill="#CBAB93"/>
<path d="M431.0,1120.0 C431.0,1121.0 431.4,1121.8 431.2,1126.0 C431.0,1130.2 430.1,1140.1 429.9,1145.5 C429.7,1150.9 427.9,1155.2 429.9,1158.4 C431.8,1161.6 437.9,1163.2 441.6,1164.9 C445.3,1166.6 449.8,1166.6 451.9,1168.8 C454.0,1171.0 454.9,1174.2 454.5,1177.9 C454.1,1181.6 451.5,1187.2 449.4,1190.9 C447.2,1194.6 446.5,1197.1 441.6,1200.0 C436.7,1202.9 426.9,1206.8 420.0,1208.5 C413.1,1210.2 404.6,1209.4 400.0,1209.9 C395.4,1210.4 394.5,1210.7 392.2,1211.5 C389.9,1212.3 387.6,1212.8 386.0,1214.6 C384.4,1216.4 383.7,1219.5 382.9,1222.4 C382.1,1225.3 382.4,1229.0 381.3,1231.8 C380.2,1234.6 378.9,1237.4 376.6,1239.5 C374.3,1241.6 370.4,1243.2 367.3,1244.2 C364.2,1245.2 361.0,1246.0 357.9,1245.8 C354.8,1245.5 351.5,1244.3 348.6,1242.7 C345.8,1241.1 342.4,1238.5 340.8,1236.4 C339.2,1234.3 339.2,1232.8 339.2,1230.2 C339.2,1227.6 340.8,1223.8 340.8,1220.8 C340.8,1217.8 340.2,1214.4 339.2,1212.0 C338.1,1209.6 337.1,1208.2 334.5,1206.5 C331.9,1204.8 327.5,1202.9 323.6,1202.0 C319.7,1201.1 314.8,1200.8 311.2,1201.0 C307.6,1201.2 304.4,1201.9 301.8,1203.5 C299.2,1205.1 297.1,1208.6 295.6,1210.7 C294.1,1212.8 293.4,1215.1 293.0,1216.0 L293.0,1240.0 L336.0,1250.0 L342.0,1259.0 L346.7,1259.5 L358.4,1260.7 L370.1,1261.3 L375.9,1263.0 L381.8,1268.9 L386.4,1278.2 L389.9,1286.4 L395.8,1291.1 L405.1,1288.8 L416.8,1284.1 L425.0,1281.8 L440.0,1272.4 L453.5,1260.0 L467.0,1246.0 L482.2,1236.0 L507.5,1229.5 L530.0,1226.0 L541.0,1222.5 L549.0,1216.0 L551.5,1205.0 L550.0,1188.6 L547.1,1167.1 L542.9,1148.6 L540.0,1142.9 L531.4,1135.7 L520.0,1128.6 L508.6,1120.0 L502.9,1105.7 L495.0,1090.0 L495.0,1070.0 L431.0,1070.0 Z" fill="#BFD849"/>
<path d="M441.0,1112.0 C441.1,1113.7 441.9,1117.6 441.6,1122.1 C441.3,1126.6 440.7,1134.5 439.0,1139.0 C437.3,1143.5 432.5,1146.2 431.2,1149.4 C429.9,1152.6 430.1,1156.0 431.2,1158.4 C432.3,1160.8 434.7,1162.5 437.7,1163.6 C440.7,1164.7 446.2,1163.4 449.4,1164.9 C452.6,1166.4 455.8,1169.5 457.1,1172.7 C458.4,1176.0 458.0,1180.5 457.1,1184.4 C456.2,1188.3 455.8,1192.9 451.9,1196.1 C448.0,1199.3 439.2,1200.6 433.5,1203.4 C427.8,1206.2 423.1,1210.9 417.9,1213.0 C412.7,1215.1 407.2,1214.4 402.3,1216.0 C397.4,1217.6 391.2,1219.7 388.3,1222.5 C385.4,1225.3 387.0,1229.7 385.2,1233.0 C383.4,1236.3 381.0,1240.2 377.4,1242.3 C373.8,1244.4 366.8,1244.2 363.4,1245.5 C360.0,1246.8 357.1,1248.5 357.1,1250.1 C357.1,1251.6 360.3,1253.8 363.4,1254.8 C366.5,1255.8 372.7,1254.8 375.8,1256.4 C378.9,1258.0 380.7,1261.3 382.1,1264.2 C383.5,1267.1 382.8,1270.5 384.1,1273.6 C385.4,1276.7 387.9,1280.5 389.9,1282.9 C391.8,1285.4 393.3,1287.7 395.8,1288.3 C398.3,1288.9 401.6,1287.7 405.1,1286.4 C408.6,1285.1 413.5,1282.1 416.8,1280.6 C420.1,1279.0 421.1,1279.6 425.0,1277.1 C428.9,1274.6 435.2,1269.0 440.0,1265.7 C444.8,1262.4 449.3,1261.0 453.5,1257.2 C457.7,1253.4 460.5,1247.0 465.3,1243.0 C470.1,1239.0 476.1,1235.6 482.2,1233.0 C488.3,1230.4 496.5,1229.0 502.0,1227.5 C507.5,1226.0 510.7,1225.6 515.0,1224.0 C519.3,1222.4 524.4,1220.3 528.0,1218.0 C531.6,1215.7 534.5,1213.7 536.5,1210.0 C538.5,1206.3 539.6,1201.2 540.0,1196.0 C540.4,1190.8 539.8,1184.1 538.6,1178.6 C537.4,1173.1 536.0,1167.9 532.9,1162.9 C529.8,1157.9 525.0,1152.2 520.0,1148.6 C515.0,1145.0 508.8,1141.8 502.9,1141.4 C497.0,1141.0 489.9,1144.5 484.4,1146.0 C478.9,1147.5 474.0,1150.5 470.1,1150.6 C466.2,1150.7 462.7,1148.7 461.0,1146.8 C459.3,1144.9 459.1,1141.6 459.7,1139.0 C460.3,1136.4 461.9,1133.4 464.9,1131.2 C467.9,1129.0 474.6,1129.0 477.9,1126.0 C481.1,1123.0 483.2,1117.3 484.4,1113.0 C485.6,1108.7 484.9,1102.2 485.0,1100.0 L485.0,1080.0 L441.0,1080.0 Z" fill="#FBD63D"/>
<path d="M300.0,1214.0 C301.1,1213.0 304.6,1209.8 306.5,1208.0 C308.4,1206.2 308.9,1204.2 311.2,1203.5 C313.5,1202.8 317.1,1202.7 320.5,1203.5 C323.9,1204.3 328.5,1206.4 331.4,1208.5 C334.3,1210.6 336.6,1213.4 337.7,1216.2 C338.8,1219.0 338.2,1222.9 337.7,1225.5 C337.2,1228.1 335.8,1230.0 334.5,1231.8 C333.2,1233.5 330.8,1235.3 330.0,1236.0 L320.0,1225.0 Z" fill="#FBD63D"/>
<path d="M424.5,1211.0 C423.0,1213.7 423.4,1219.2 421.0,1222.1 C418.6,1225.0 414.0,1226.8 410.1,1228.3 C406.2,1229.8 400.8,1230.1 397.7,1231.4 C394.6,1232.7 392.7,1233.8 391.4,1236.1 C390.1,1238.4 391.2,1242.7 389.9,1245.5 C388.6,1248.3 385.0,1251.0 383.6,1253.2 C382.2,1255.4 381.7,1256.0 381.8,1258.4 C381.9,1260.8 382.6,1264.2 384.1,1267.7 C385.7,1271.2 389.0,1276.4 391.1,1279.4 C393.2,1282.4 394.9,1284.7 396.9,1285.5 C398.8,1286.3 400.4,1285.7 402.8,1284.1 C405.2,1282.5 408.3,1278.4 411.0,1275.9 C413.7,1273.4 416.9,1271.1 419.2,1268.9 C421.5,1266.8 421.5,1264.4 425.0,1263.0 C428.5,1261.6 435.2,1263.0 440.0,1260.6 C444.8,1258.2 449.3,1252.7 453.5,1248.8 C457.7,1244.9 460.5,1240.7 465.3,1237.0 C470.1,1233.3 476.6,1230.1 482.2,1226.8 C487.8,1223.5 493.5,1219.7 498.6,1217.1 C503.7,1214.5 508.8,1214.2 512.9,1211.4 C516.9,1208.6 520.8,1204.3 522.9,1200.0 C525.0,1195.7 525.7,1190.5 525.7,1185.7 C525.7,1180.9 525.0,1175.9 522.9,1171.4 C520.8,1166.9 516.9,1161.7 512.9,1158.6 C508.8,1155.5 503.9,1153.6 498.6,1152.9 C493.4,1152.2 486.2,1153.1 481.4,1154.3 C476.6,1155.5 473.0,1156.5 470.0,1160.0 C467.0,1163.5 466.0,1171.0 463.6,1175.3 C461.2,1179.6 458.4,1183.0 455.5,1186.0 C452.6,1189.0 449.1,1191.0 446.0,1193.5 C442.9,1196.0 439.7,1198.9 437.0,1201.0 C434.3,1203.1 432.1,1204.3 430.0,1206.0 C427.9,1207.7 426.0,1208.3 424.5,1211.0 Z" fill="#E5C494"/>
<path d="M470.1,1113.5 C470.1,1114.5 469.6,1115.6 468.9,1116.4 C468.1,1117.2 466.8,1118.0 465.6,1118.3 C464.4,1118.6 462.8,1118.6 461.6,1118.3 C460.4,1118.0 459.1,1117.2 458.3,1116.4 C457.6,1115.6 457.1,1114.5 457.1,1113.5 C457.1,1112.5 457.6,1111.4 458.3,1110.6 C459.1,1109.8 460.4,1109.0 461.6,1108.7 C462.8,1108.4 464.4,1108.4 465.6,1108.7 C466.8,1109.0 468.1,1109.8 468.9,1110.6 C469.6,1111.4 470.1,1112.5 470.1,1113.5 Z" fill="#E5C494"/>
<path d="M443.8,1154.5 C443.8,1155.4 443.4,1156.6 442.9,1157.3 C442.3,1158.1 441.4,1158.8 440.5,1159.1 C439.6,1159.4 438.4,1159.4 437.5,1159.1 C436.6,1158.8 435.7,1158.1 435.1,1157.3 C434.6,1156.6 434.2,1155.4 434.2,1154.5 C434.2,1153.6 434.6,1152.4 435.1,1151.7 C435.7,1150.9 436.6,1150.2 437.5,1149.9 C438.4,1149.6 439.6,1149.6 440.5,1149.9 C441.4,1150.2 442.3,1150.9 442.9,1151.7 C443.4,1152.4 443.8,1153.6 443.8,1154.5 Z" fill="#E5C494"/>
<path d="M483.8,1139.0 C483.8,1140.1 483.2,1141.5 482.3,1142.4 C481.4,1143.3 479.9,1144.2 478.4,1144.5 C477.0,1144.9 475.0,1144.9 473.6,1144.5 C472.1,1144.2 470.6,1143.3 469.7,1142.4 C468.8,1141.5 468.2,1140.1 468.2,1139.0 C468.2,1137.9 468.8,1136.5 469.7,1135.6 C470.6,1134.7 472.1,1133.8 473.6,1133.5 C475.0,1133.1 477.0,1133.1 478.4,1133.5 C479.9,1133.8 481.4,1134.7 482.3,1135.6 C483.2,1136.5 483.8,1137.9 483.8,1139.0 Z" fill="#CBAB93"/>
<path d="M478.5,1139.0 C478.5,1139.7 478.1,1140.5 477.6,1141.0 C477.1,1141.4 476.2,1141.8 475.5,1141.8 C474.8,1141.8 473.9,1141.4 473.4,1141.0 C472.9,1140.5 472.5,1139.7 472.5,1139.0 C472.5,1138.3 472.9,1137.5 473.4,1137.0 C473.9,1136.6 474.8,1136.2 475.5,1136.2 C476.2,1136.2 477.1,1136.6 477.6,1137.0 C478.1,1137.5 478.5,1138.3 478.5,1139.0 Z" fill="#C093C6"/>
<path d="M350.5,1167.3 C351.4,1163.7 354.7,1161.8 357.7,1161.8 C360.7,1161.8 365.3,1164.3 368.6,1167.3 C371.9,1170.3 376.5,1175.8 377.7,1180.0 C378.9,1184.2 378.6,1190.3 375.9,1192.7 C373.2,1195.1 365.3,1196.0 361.4,1194.5 C357.5,1193.0 354.1,1188.1 352.3,1183.6 C350.5,1179.1 349.6,1170.9 350.5,1167.3 Z" fill="#CBAB93"/>
<path d="M354.1,1174.5 C354.4,1172.4 355.9,1169.4 357.7,1169.1 C359.5,1168.8 362.6,1170.6 365.0,1172.7 C367.4,1174.8 371.4,1179.1 372.3,1181.8 C373.2,1184.5 372.0,1188.2 370.5,1189.1 C369.0,1190.0 365.6,1188.5 363.2,1187.3 C360.8,1186.1 357.4,1183.9 355.9,1181.8 C354.4,1179.7 353.8,1176.6 354.1,1174.5 Z" fill="#BFD849"/>
<path d="M467.5,1345.0 C467.5,1342.5 467.1,1335.0 467.5,1330.0 C467.9,1325.0 468.2,1318.9 470.0,1315.0 C471.8,1311.1 474.5,1308.3 478.0,1306.5 C481.5,1304.7 485.6,1304.4 490.9,1304.0 C496.2,1303.6 503.5,1303.7 510.0,1304.0 C516.5,1304.3 524.1,1304.4 529.9,1305.7 C535.7,1307.0 540.7,1309.0 545.0,1312.0 C549.3,1315.0 553.6,1318.9 555.8,1323.9 C558.0,1328.9 558.4,1336.8 558.4,1342.1 C558.4,1347.4 556.4,1353.7 556.0,1356.0 L556.0,1380.0 L467.5,1380.0 Z" fill="#CBAB93"/>
<path d="M469.5,1345.0 C469.5,1342.3 468.9,1334.7 469.5,1329.1 C470.1,1323.5 469.6,1315.1 473.2,1311.5 C476.8,1307.9 483.6,1308.0 490.9,1307.5 C498.2,1307.0 510.0,1306.5 516.9,1308.8 C523.8,1311.1 529.9,1315.8 532.5,1321.3 C535.1,1326.8 534.7,1336.9 532.5,1342.1 C530.3,1347.3 524.3,1350.2 519.5,1352.5 C514.7,1354.8 506.5,1355.4 503.9,1356.0 L503.9,1380.0 L469.5,1380.0 Z" fill="#BFD849"/>
<path d="M473.2,1342.0 C473.2,1339.0 472.4,1328.7 473.2,1323.9 C474.0,1319.2 473.6,1315.7 477.9,1313.5 C482.1,1311.3 492.2,1310.1 498.7,1310.5 C505.2,1310.9 513.0,1313.0 516.9,1316.1 C520.8,1319.2 522.5,1325.2 522.1,1329.1 C521.7,1333.0 518.6,1337.3 514.3,1339.5 C510.0,1341.7 500.5,1341.4 496.1,1342.5 C491.7,1343.6 489.4,1345.4 488.0,1346.0 L473.2,1350.0 Z" fill="#FBD63D"/>
<path d="M345.0,1316.0 C348.1,1316.6 358.4,1319.3 363.6,1319.5 C368.8,1319.7 372.8,1317.0 376.4,1317.0 C380.0,1317.0 383.7,1317.3 385.5,1319.5 C387.3,1321.7 387.0,1323.8 387.2,1330.0 C387.4,1336.2 386.5,1346.6 386.5,1356.4 C386.5,1366.2 385.7,1380.0 387.3,1389.1 C388.9,1398.2 394.6,1405.5 396.4,1410.9 C398.2,1416.4 397.6,1418.6 398.2,1421.8 C398.8,1425.0 399.7,1428.6 400.0,1430.0 L380.0,1445.0 L378.2,1434.5 L367.3,1421.8 L354.5,1407.3 L343.6,1392.7 L341.8,1380.0 L340.9,1356.4 L335.0,1340.0 Z" fill="#CBAB93"/>
<path d="M343.6,1356.4 C344.5,1352.2 345.8,1346.3 349.1,1341.8 C352.4,1337.2 359.1,1331.8 363.6,1329.1 C368.2,1326.4 373.4,1325.2 376.4,1325.5 C379.4,1325.8 381.2,1327.3 381.8,1330.9 C382.4,1334.5 380.6,1340.0 380.0,1347.3 C379.4,1354.6 378.2,1366.3 378.2,1374.5 C378.2,1382.7 378.2,1390.3 380.0,1396.4 C381.8,1402.5 387.6,1406.7 389.1,1410.9 C390.6,1415.1 390.6,1419.4 389.1,1421.8 C387.6,1424.2 383.0,1426.1 380.0,1425.5 C377.0,1424.9 373.3,1421.9 370.9,1418.2 C368.5,1414.5 368.2,1407.8 365.5,1403.6 C362.8,1399.3 357.5,1396.6 354.5,1392.7 C351.5,1388.8 349.1,1384.2 347.3,1380.0 C345.5,1375.8 344.2,1371.2 343.6,1367.3 C343.0,1363.4 342.7,1360.7 343.6,1356.4 Z" fill="#BFD849"/>
<path d="M347.3,1360.0 C347.9,1357.3 348.5,1356.3 350.9,1352.7 C353.3,1349.1 358.2,1341.8 361.8,1338.2 C365.4,1334.6 370.0,1331.8 372.7,1330.9 C375.4,1330.0 377.6,1330.0 378.2,1332.7 C378.8,1335.4 377.6,1341.8 376.4,1347.3 C375.2,1352.8 373.0,1360.7 370.9,1365.5 C368.8,1370.3 366.3,1374.6 363.6,1376.4 C360.9,1378.2 357.2,1377.6 354.5,1376.4 C351.8,1375.2 348.5,1371.8 347.3,1369.1 C346.1,1366.4 346.7,1362.7 347.3,1360.0 Z" fill="#FBD63D"/>
<path d="M382.7,1413.6 C382.7,1414.7 382.4,1416.0 381.8,1416.8 C381.3,1417.7 380.4,1418.5 379.6,1418.8 C378.8,1419.2 377.6,1419.2 376.8,1418.8 C376.0,1418.5 375.1,1417.7 374.6,1416.8 C374.0,1416.0 373.7,1414.7 373.7,1413.6 C373.7,1412.5 374.0,1411.2 374.6,1410.4 C375.1,1409.5 376.0,1408.7 376.8,1408.4 C377.6,1408.0 378.8,1408.0 379.6,1408.4 C380.4,1408.7 381.3,1409.5 381.8,1410.4 C382.4,1411.2 382.7,1412.5 382.7,1413.6 Z" fill="#FBD63D"/>
<path d="M356.2,1359.1 C356.2,1360.1 355.9,1361.2 355.5,1362.0 C355.1,1362.8 354.4,1363.6 353.8,1363.9 C353.1,1364.2 352.3,1364.2 351.6,1363.9 C351.0,1363.6 350.3,1362.8 349.9,1362.0 C349.5,1361.2 349.2,1360.1 349.2,1359.1 C349.2,1358.1 349.5,1357.0 349.9,1356.2 C350.3,1355.4 351.0,1354.6 351.6,1354.3 C352.3,1354.0 353.1,1354.0 353.8,1354.3 C354.4,1354.6 355.1,1355.4 355.5,1356.2 C355.9,1357.0 356.2,1358.1 356.2,1359.1 Z" fill="#E5C494"/>
<path d="M353.0,1427.3 C353.0,1429.1 352.4,1431.2 351.6,1432.6 C350.7,1434.0 349.2,1435.3 347.8,1435.9 C346.4,1436.4 344.6,1436.4 343.2,1435.9 C341.8,1435.3 340.3,1434.0 339.4,1432.6 C338.6,1431.2 338.0,1429.1 338.0,1427.3 C338.0,1425.5 338.6,1423.4 339.4,1422.0 C340.3,1420.6 341.8,1419.3 343.2,1418.7 C344.6,1418.2 346.4,1418.2 347.8,1418.7 C349.2,1419.3 350.7,1420.6 351.6,1422.0 C352.4,1423.4 353.0,1425.5 353.0,1427.3 Z" fill="#CBAB93"/>
</g>
<path d="M253.1,1137.4 L372.4,1136.7 L415.6,1130.9 L468.3,1105.2 L530.0,1066.5 L553.7,1189.6 L559.2,1226.9 L563.2,1268.6 L567.1,1310.4 L568.4,1351.1 L553.1,1353.7 L535.2,1359.8 L505.0,1364.3 L491.5,1341.7 L449.9,1358.9 L411.8,1382.5 L418.1,1403.0 L390.2,1428.1 L347.3,1475.6 L312.0,1382.9 L328.1,1362.0 L361.3,1335.0 L360.3,1296.2 L339.1,1251.2 L317.4,1213.2 L272.3,1214.4 L258.9,1184.9 Z" fill="none" stroke="#000" stroke-width="4.97" stroke-linejoin="round"/>
<g transform="matrix(0.99378 0 0 0.99378 0.183 1063.903)">
<line x1="57.3" y1="48.30" x2="61.5" y2="48.30" class="tk"/>
<text x="53.2" y="52.80" class="ax" text-anchor="end">33.724°N</text>
<line x1="57.3" y1="108.68" x2="61.5" y2="108.68" class="tk"/>
<text x="53.2" y="113.18" class="ax" text-anchor="end">33.723°N</text>
<line x1="57.3" y1="169.06" x2="61.5" y2="169.06" class="tk"/>
<text x="53.2" y="173.56" class="ax" text-anchor="end">33.722°N</text>
<line x1="57.3" y1="229.44" x2="61.5" y2="229.44" class="tk"/>
<text x="53.2" y="233.94" class="ax" text-anchor="end">33.721°N</text>
<line x1="57.3" y1="289.82" x2="61.5" y2="289.82" class="tk"/>
<text x="53.2" y="294.32" class="ax" text-anchor="end">33.720°N</text>
<line x1="57.3" y1="350.20" x2="61.5" y2="350.20" class="tk"/>
<text x="53.2" y="354.70" class="ax" text-anchor="end">33.719°N</text>
<line x1="57.3" y1="410.58" x2="61.5" y2="410.58" class="tk"/>
<text x="53.2" y="415.08" class="ax" text-anchor="end">33.718°N</text>
<line x1="162.10" y1="415" x2="162.10" y2="419.3" class="tk"/>
<text x="162.10" y="433" class="ax" text-anchor="middle">75.090°E</text>
<line x1="263.00" y1="415" x2="263.00" y2="419.3" class="tk"/>
<text x="263.00" y="433" class="ax" text-anchor="middle">75.092°E</text>
<line x1="363.90" y1="415" x2="363.90" y2="419.3" class="tk"/>
<text x="363.90" y="433" class="ax" text-anchor="middle">75.094°E</text>
<line x1="464.80" y1="415" x2="464.80" y2="419.3" class="tk"/>
<text x="464.80" y="433" class="ax" text-anchor="middle">75.096°E</text>
<line x1="565.70" y1="415" x2="565.70" y2="419.3" class="tk"/>
<text x="565.70" y="433" class="ax" text-anchor="middle">75.098°E</text>
<line x1="666.60" y1="415" x2="666.60" y2="419.3" class="tk"/>
<text x="666.60" y="433" class="ax" text-anchor="middle">75.100°E</text>
<text x="74.6" y="34.8" class="ttl">Porosity</text>
<path d="M114.8,61.1 L110.1,87.2 L114.8,91.4 Z" fill="#fff" stroke="#000" stroke-width="0.9" stroke-linejoin="miter"/>
<path d="M114.8,61.1 L119.5,87.2 L114.8,91.4 Z" fill="#000" stroke="#000" stroke-width="0.9" stroke-linejoin="miter"/>
<path d="M145.3,91.4 L119.5,87.2 L114.8,91.4 Z" fill="#fff" stroke="#000" stroke-width="0.9" stroke-linejoin="miter"/>
<path d="M145.3,91.4 L119.5,95.6 L114.8,91.4 Z" fill="#000" stroke="#000" stroke-width="0.9" stroke-linejoin="miter"/>
<path d="M114.8,121.8 L119.5,95.6 L114.8,91.4 Z" fill="#fff" stroke="#000" stroke-width="0.9" stroke-linejoin="miter"/>
<path d="M114.8,121.8 L110.1,95.6 L114.8,91.4 Z" fill="#000" stroke="#000" stroke-width="0.9" stroke-linejoin="miter"/>
<path d="M84.4,91.4 L110.1,95.6 L114.8,91.4 Z" fill="#fff" stroke="#000" stroke-width="0.9" stroke-linejoin="miter"/>
<path d="M84.4,91.4 L110.1,87.2 L114.8,91.4 Z" fill="#000" stroke="#000" stroke-width="0.9" stroke-linejoin="miter"/>
<text x="114.6" y="57.3" class="nn" text-anchor="middle">N</text>
<rect x="87.9" y="364.6" width="54.4" height="8.5" fill="#fff" stroke="#000" stroke-width="1"/>
<rect x="142.3" y="364.6" width="55" height="8.5" fill="#000" stroke="#000" stroke-width="1"/>
<text x="87.7" y="389.2" class="sb" text-anchor="middle">0.0</text>
<text x="141.6" y="389.2" class="sb" text-anchor="middle">0.1</text>
<text x="185.7" y="389.4" class="sb">0.2 km</text>
<text x="657.2" y="29.7" class="lt">Porosity</text>
<rect x="658.4" y="37.30" width="12.3" height="12.6" fill="#66C2A5"/>
<text x="674.3" y="47.70" class="ll">42.67 to 45.83</text>
<rect x="658.4" y="49.83" width="12.3" height="12.6" fill="#E7956C"/>
<text x="674.3" y="60.23" class="ll">45.83 to 46.76</text>
<rect x="658.4" y="62.36" width="12.3" height="12.6" fill="#AD9BAD"/>
<text x="674.3" y="72.76" class="ll">46.76 to 47.27</text>
<rect x="658.4" y="74.89" width="12.3" height="12.6" fill="#C093C6"/>
<text x="674.3" y="85.29" class="ll">47.27 to 47.59</text>
<rect x="658.4" y="87.42" width="12.3" height="12.6" fill="#CBAB93"/>
<text x="674.3" y="97.82" class="ll">47.59 to 47.93</text>
<rect x="658.4" y="99.95" width="12.3" height="12.6" fill="#BFD849"/>
<text x="674.3" y="110.35" class="ll">47.93 to 48.38</text>
<rect x="658.4" y="112.48" width="12.3" height="12.6" fill="#FBD63D"/>
<text x="674.3" y="122.88" class="ll">48.38 to 49.16</text>
<rect x="658.4" y="125.01" width="12.3" height="12.6" fill="#E5C494"/>
<text x="674.3" y="135.41" class="ll">49.16 to 52.99</text>
<rect x="61.5" y="0.5" width="702" height="414.5" fill="none" stroke="#333" stroke-width="1.3"/>
</g>
<text x="396.0" y="470.6" class="cap" text-anchor="middle">(A)</text>
<text x="387.8" y="1003.9" class="cap" text-anchor="middle">(B)</text>
<text x="387.8" y="1566.4" class="cap" text-anchor="middle">(C)</text>
</svg></body></html>
